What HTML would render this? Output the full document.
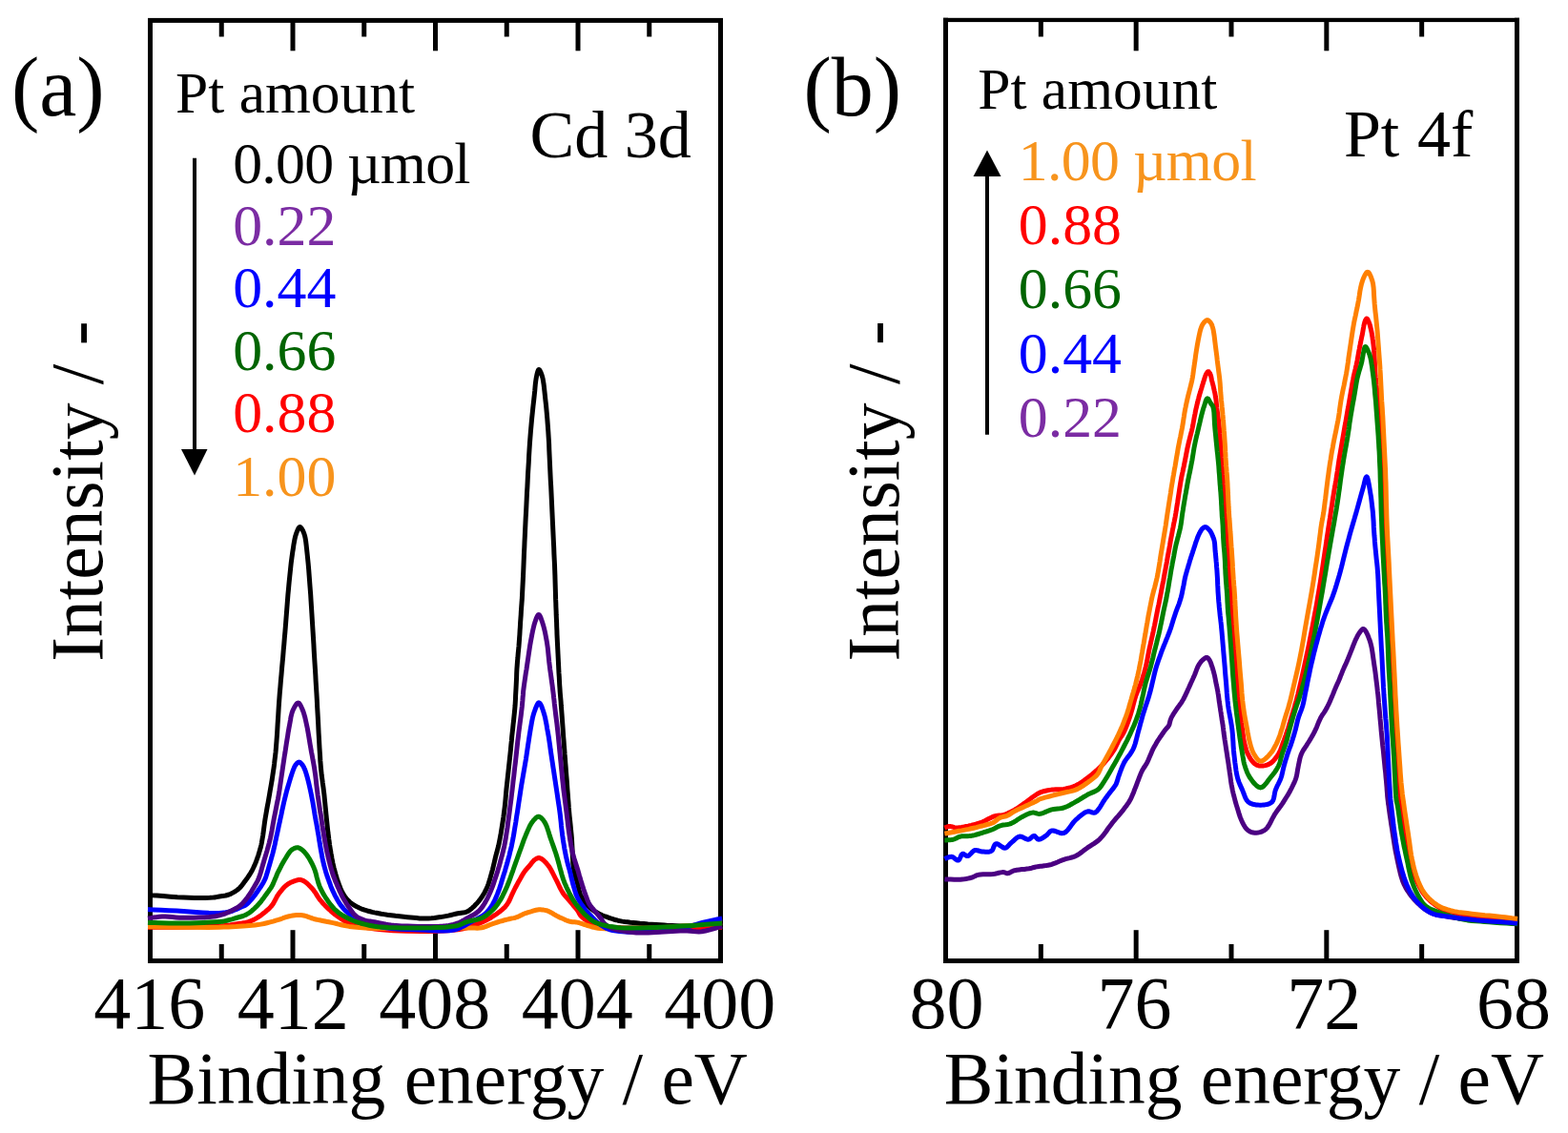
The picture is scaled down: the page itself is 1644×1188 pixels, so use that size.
<!DOCTYPE html>
<html><head><meta charset="utf-8"><style>
html,body{margin:0;padding:0;background:#fff;}
svg{display:block;}
text{font-family:"Liberation Serif","Times New Roman",serif;}
</style></head><body>
<svg width="1644" height="1188" viewBox="0 0 1644 1188">
<rect width="1644" height="1188" fill="#fff"/>
<rect x="157.5" y="21.4" width="598.0" height="986.1" fill="none" stroke="#000" stroke-width="5" stroke-linejoin="miter"/>
<path d="M991.5,18.8 V1007.5 M1590.5,18.8 V1010 M989,1007.5 H1593" fill="none" stroke="#000" stroke-width="5"/>
<rect x="989" y="18.8" width="604" height="4.3" fill="#000"/>
<line x1="307.0" y1="21" x2="307.0" y2="53.3" stroke="#000" stroke-width="5"/>
<line x1="307.0" y1="1008" x2="307.0" y2="975.2" stroke="#000" stroke-width="5"/>
<line x1="456.5" y1="21" x2="456.5" y2="53.3" stroke="#000" stroke-width="5"/>
<line x1="456.5" y1="1008" x2="456.5" y2="975.2" stroke="#000" stroke-width="5"/>
<line x1="606.0" y1="21" x2="606.0" y2="53.3" stroke="#000" stroke-width="5"/>
<line x1="606.0" y1="1008" x2="606.0" y2="975.2" stroke="#000" stroke-width="5"/>
<line x1="232.25" y1="21" x2="232.25" y2="38.5" stroke="#000" stroke-width="5"/>
<line x1="232.25" y1="1008" x2="232.25" y2="990" stroke="#000" stroke-width="5"/>
<line x1="381.75" y1="21" x2="381.75" y2="38.5" stroke="#000" stroke-width="5"/>
<line x1="381.75" y1="1008" x2="381.75" y2="990" stroke="#000" stroke-width="5"/>
<line x1="531.25" y1="21" x2="531.25" y2="38.5" stroke="#000" stroke-width="5"/>
<line x1="531.25" y1="1008" x2="531.25" y2="990" stroke="#000" stroke-width="5"/>
<line x1="680.75" y1="21" x2="680.75" y2="38.5" stroke="#000" stroke-width="5"/>
<line x1="680.75" y1="1008" x2="680.75" y2="990" stroke="#000" stroke-width="5"/>
<line x1="1191.1666666666667" y1="21" x2="1191.1666666666667" y2="53.3" stroke="#000" stroke-width="5"/>
<line x1="1191.1666666666667" y1="1008" x2="1191.1666666666667" y2="975.2" stroke="#000" stroke-width="5"/>
<line x1="1390.8333333333333" y1="21" x2="1390.8333333333333" y2="53.3" stroke="#000" stroke-width="5"/>
<line x1="1390.8333333333333" y1="1008" x2="1390.8333333333333" y2="975.2" stroke="#000" stroke-width="5"/>
<line x1="1091.3333333333333" y1="21" x2="1091.3333333333333" y2="38.5" stroke="#000" stroke-width="5"/>
<line x1="1091.3333333333333" y1="1008" x2="1091.3333333333333" y2="990" stroke="#000" stroke-width="5"/>
<line x1="1291.0" y1="21" x2="1291.0" y2="38.5" stroke="#000" stroke-width="5"/>
<line x1="1291.0" y1="1008" x2="1291.0" y2="990" stroke="#000" stroke-width="5"/>
<line x1="1490.6666666666667" y1="21" x2="1490.6666666666667" y2="38.5" stroke="#000" stroke-width="5"/>
<line x1="1490.6666666666667" y1="1008" x2="1490.6666666666667" y2="990" stroke="#000" stroke-width="5"/>
<path d="M158.0,938.5 L159.8,938.7 L164.4,939.1 L171.0,939.6 L178.5,940.2 L186.0,940.8 L192.4,941.1 L198.0,941.3 L203.8,941.4 L209.6,941.5 L215.0,941.4 L219.8,941.3 L223.6,941.1 L224.9,941.0 L226.0,940.8 L227.0,940.6 L227.9,940.4 L228.9,940.2 L230.0,940.0 L231.6,939.7 L233.2,939.5 L234.9,939.3 L236.7,939.0 L238.4,938.5 L240.1,938.0 L241.9,937.3 L243.6,936.4 L245.4,935.4 L247.1,934.3 L248.7,933.2 L250.2,932.0 L251.5,930.8 L252.7,929.5 L253.7,928.2 L254.8,926.8 L255.8,925.3 L256.9,923.9 L258.1,922.3 L259.3,920.7 L260.4,919.0 L261.6,917.3 L262.7,915.5 L263.7,913.8 L264.6,912.1 L265.4,910.5 L266.2,908.8 L267.0,907.1 L267.7,905.4 L268.4,903.7 L269.0,902.0 L269.6,900.4 L270.2,898.7 L270.8,897.0 L271.3,895.3 L271.8,893.6 L272.3,892.0 L272.7,890.4 L273.2,888.9 L273.6,887.2 L274.0,885.5 L274.4,883.5 L275.0,879.9 L275.7,875.8 L276.3,871.3 L276.9,866.7 L277.5,862.1 L278.2,857.7 L278.9,853.6 L279.6,849.5 L280.3,845.5 L281.1,841.4 L281.8,837.4 L282.5,833.3 L283.2,829.2 L283.9,825.1 L284.6,821.1 L285.3,817.0 L285.9,812.9 L286.5,808.8 L287.1,804.8 L287.6,801.0 L288.0,797.2 L288.5,793.2 L289.0,789.0 L289.4,784.4 L290.0,776.9 L290.6,768.6 L291.1,759.7 L291.7,750.6 L292.2,741.8 L292.8,733.5 L293.3,726.7 L293.9,720.2 L294.4,713.8 L295.0,707.5 L295.5,701.2 L296.1,694.8 L296.7,688.4 L297.2,681.9 L297.8,675.5 L298.3,669.0 L298.9,662.6 L299.4,656.1 L299.9,649.6 L300.4,643.2 L300.9,636.7 L301.4,630.3 L301.9,623.8 L302.5,617.4 L303.1,610.8 L303.8,604.0 L304.5,597.2 L305.2,590.6 L306.0,584.4 L306.8,578.7 L307.4,575.0 L307.9,571.4 L308.5,568.0 L309.1,564.8 L309.8,561.9 L310.6,559.4 L311.2,557.9 L311.8,556.3 L312.5,554.9 L313.1,553.7 L313.8,552.9 L314.5,552.6 L315.2,552.9 L316.0,553.7 L316.7,554.9 L317.5,556.3 L318.2,557.9 L318.8,559.4 L319.6,561.9 L320.2,564.8 L320.7,568.0 L321.1,571.4 L321.5,575.0 L321.9,578.7 L322.5,584.4 L323.1,590.6 L323.7,597.2 L324.2,604.0 L324.7,610.8 L325.2,617.4 L325.7,623.8 L326.1,630.3 L326.5,636.7 L326.9,643.2 L327.3,649.6 L327.7,656.1 L328.1,662.5 L328.5,669.0 L328.9,675.4 L329.2,681.9 L329.6,688.3 L330.0,694.8 L330.4,701.2 L330.8,707.5 L331.1,713.8 L331.5,720.2 L331.9,726.7 L332.3,733.5 L332.7,741.8 L333.2,750.6 L333.7,759.7 L334.1,768.5 L334.6,776.9 L335.0,784.4 L335.3,789.0 L335.6,793.2 L335.8,797.2 L336.1,801.0 L336.4,804.8 L336.8,808.8 L337.2,812.9 L337.8,817.0 L338.3,821.1 L338.9,825.1 L339.4,829.2 L339.9,833.3 L340.3,837.4 L340.7,841.5 L341.1,845.6 L341.5,849.6 L341.9,853.7 L342.3,857.7 L342.7,861.5 L343.1,865.4 L343.5,869.2 L343.9,872.9 L344.4,876.5 L344.8,880.0 L345.2,882.7 L345.5,885.3 L345.9,887.8 L346.3,890.3 L346.7,892.7 L347.1,895.2 L347.6,897.7 L348.0,900.2 L348.5,902.8 L349.0,905.3 L349.6,907.8 L350.2,910.3 L350.9,912.9 L351.5,915.5 L352.3,918.0 L353.0,920.6 L353.9,923.1 L354.7,925.5 L355.5,927.6 L356.3,929.8 L357.1,931.8 L358.0,933.9 L359.0,935.8 L360.0,937.6 L361.0,939.2 L362.0,940.6 L363.1,942.1 L364.3,943.4 L365.5,944.7 L366.8,945.9 L368.3,947.1 L369.8,948.2 L371.5,949.3 L373.2,950.2 L374.9,951.1 L376.7,952.0 L378.5,952.8 L380.3,953.5 L382.2,954.1 L384.1,954.7 L386.0,955.3 L388.0,955.8 L390.2,956.4 L392.5,956.9 L394.8,957.3 L397.2,957.7 L399.7,958.2 L402.3,958.6 L406.1,959.2 L410.2,959.7 L414.6,960.3 L419.0,960.8 L423.3,961.3 L427.3,961.7 L430.6,962.0 L433.7,962.3 L436.8,962.6 L439.9,962.9 L442.9,963.0 L446.0,963.0 L449.1,962.9 L452.3,962.7 L455.5,962.4 L458.6,962.0 L461.7,961.6 L464.7,961.1 L467.4,960.6 L470.0,960.1 L472.7,959.5 L475.2,958.9 L477.7,958.3 L480.0,957.8 L481.8,957.5 L483.6,957.2 L485.3,957.0 L486.9,956.8 L488.5,956.4 L490.0,955.8 L491.4,955.0 L492.7,954.1 L494.0,953.1 L495.2,952.0 L496.4,950.9 L497.6,949.7 L498.9,948.3 L500.3,946.9 L501.6,945.4 L502.8,943.9 L504.0,942.2 L505.2,940.6 L506.3,938.8 L507.4,937.0 L508.4,935.2 L509.4,933.2 L510.3,931.2 L511.2,929.2 L512.1,926.8 L512.9,924.4 L513.7,921.8 L514.4,919.2 L515.1,916.7 L515.8,914.1 L516.5,911.6 L517.1,909.0 L517.7,906.5 L518.3,904.0 L518.9,901.4 L519.5,898.9 L520.1,896.4 L520.8,894.1 L521.4,891.7 L522.0,889.3 L522.7,886.7 L523.3,883.8 L524.2,879.1 L525.2,873.7 L526.1,868.1 L527.0,862.3 L527.9,856.6 L528.6,851.1 L529.2,846.3 L529.7,841.7 L530.1,837.1 L530.5,832.5 L530.9,827.9 L531.4,823.3 L531.9,818.7 L532.4,814.1 L532.9,809.5 L533.4,804.8 L533.9,800.2 L534.4,795.6 L534.9,791.0 L535.4,786.3 L535.8,781.6 L536.3,777.0 L536.7,772.3 L537.2,767.8 L537.7,763.5 L538.1,759.3 L538.6,755.1 L539.0,751.0 L539.4,746.9 L539.8,742.9 L540.1,739.3 L540.3,735.9 L540.5,732.5 L540.6,729.1 L540.8,725.6 L541.0,722.1 L541.2,718.1 L541.4,714.1 L541.6,710.0 L541.7,705.9 L541.9,701.8 L542.2,697.7 L542.5,693.6 L542.9,689.6 L543.2,685.5 L543.6,681.4 L544.0,677.4 L544.3,673.3 L544.6,669.2 L544.9,665.1 L545.1,661.1 L545.4,657.0 L545.6,652.9 L545.9,648.8 L546.2,644.7 L546.4,640.7 L546.7,636.6 L547.0,632.5 L547.3,628.5 L547.5,624.4 L547.7,620.4 L547.9,616.4 L548.1,612.4 L548.3,608.4 L548.5,604.2 L548.7,600.0 L548.9,595.0 L549.1,589.9 L549.3,584.7 L549.5,579.4 L549.8,574.0 L550.0,568.5 L550.3,562.3 L550.6,555.9 L550.9,549.4 L551.2,542.8 L551.6,536.3 L551.9,529.8 L552.2,523.3 L552.5,516.9 L552.9,510.4 L553.2,504.0 L553.5,497.5 L553.9,491.1 L554.3,484.6 L554.6,478.2 L555.0,471.7 L555.4,465.3 L555.9,458.8 L556.4,452.4 L557.0,445.8 L557.6,439.0 L558.3,432.2 L559.0,425.6 L559.7,419.4 L560.3,413.7 L560.7,410.0 L561.0,406.4 L561.3,403.0 L561.7,399.8 L562.1,397.0 L562.6,394.4 L562.9,392.9 L563.3,391.3 L563.7,389.9 L564.1,388.7 L564.5,387.8 L565.0,387.5 L565.5,387.8 L566.1,388.6 L566.7,389.8 L567.3,391.3 L567.9,392.9 L568.4,394.4 L569.1,396.9 L569.6,399.8 L570.1,403.0 L570.5,406.4 L570.9,410.0 L571.3,413.7 L571.9,419.4 L572.6,425.6 L573.2,432.2 L573.8,439.0 L574.3,445.8 L574.8,452.4 L575.2,458.8 L575.6,465.3 L575.8,471.7 L576.1,478.2 L576.4,484.6 L576.7,491.1 L577.0,497.5 L577.3,504.0 L577.7,510.4 L578.0,516.9 L578.3,523.3 L578.6,529.8 L578.9,536.3 L579.2,542.8 L579.5,549.3 L579.8,555.7 L580.1,562.2 L580.4,568.5 L580.7,574.5 L580.9,580.6 L581.2,586.6 L581.5,592.5 L581.7,598.1 L581.9,603.4 L582.0,607.2 L582.1,610.7 L582.2,614.1 L582.3,617.5 L582.4,620.9 L582.5,624.4 L582.6,628.4 L582.8,632.4 L582.9,636.5 L583.1,640.6 L583.2,644.7 L583.4,648.8 L583.6,652.9 L583.7,657.0 L583.9,661.1 L584.0,665.1 L584.2,669.2 L584.4,673.3 L584.6,677.4 L584.8,681.4 L585.0,685.5 L585.2,689.6 L585.4,693.6 L585.6,697.7 L585.8,701.8 L586.0,705.9 L586.3,710.0 L586.5,714.1 L586.7,718.1 L587.0,722.1 L587.2,725.6 L587.5,729.1 L587.8,732.5 L588.1,735.9 L588.3,739.3 L588.6,742.9 L588.9,746.9 L589.2,751.0 L589.5,755.1 L589.8,759.3 L590.1,763.5 L590.4,767.8 L590.7,772.3 L591.1,777.0 L591.4,781.6 L591.8,786.3 L592.1,791.0 L592.5,795.6 L592.8,800.2 L593.2,804.8 L593.5,809.4 L593.9,814.1 L594.3,818.7 L594.6,823.3 L594.9,827.9 L595.3,832.6 L595.6,837.2 L596.0,841.8 L596.3,846.5 L596.7,851.1 L597.1,855.7 L597.6,860.3 L598.1,864.9 L598.5,869.5 L599.0,874.2 L599.4,878.9 L599.7,884.2 L600.0,889.7 L600.2,895.2 L600.5,900.6 L600.8,905.7 L601.4,910.3 L601.9,913.2 L602.5,915.8 L603.1,918.3 L603.8,920.7 L604.5,923.0 L605.2,925.5 L605.9,928.1 L606.5,930.7 L607.1,933.3 L607.8,935.8 L608.6,938.3 L609.7,940.6 L610.9,942.7 L612.3,944.8 L613.9,946.8 L615.5,948.7 L617.1,950.4 L618.8,952.0 L620.2,953.2 L621.7,954.3 L623.2,955.3 L624.7,956.3 L626.3,957.1 L627.9,958.0 L629.7,958.9 L631.5,959.7 L633.5,960.5 L635.4,961.2 L637.3,961.9 L639.2,962.6 L640.9,963.2 L642.6,963.7 L644.3,964.3 L646.1,964.7 L647.9,965.2 L649.8,965.6 L652.4,966.1 L655.1,966.5 L657.9,966.8 L660.9,967.2 L663.9,967.5 L667.0,967.8 L670.9,968.2 L675.0,968.5 L679.3,968.9 L683.6,969.2 L688.0,969.5 L692.2,969.8 L696.4,970.1 L700.5,970.4 L704.7,970.6 L708.9,970.8 L713.0,971.0 L717.1,971.1 L721.0,971.1 L725.0,971.1 L728.9,971.1 L732.8,971.0 L736.5,970.8 L740.0,970.5 L743.0,970.1 L746.4,969.6 L749.6,969.1 L752.3,968.5 L754.3,968.1 L755.0,968.0" fill="none" stroke="#000000" stroke-width="5" stroke-linejoin="round" stroke-linecap="butt"/>
<path d="M155.0,972.3 L159.4,972.3 L170.6,972.3 L186.0,972.2 L202.8,972.0 L218.3,971.6 L229.8,971.1 L234.0,970.7 L237.7,970.3 L241.1,969.9 L244.2,969.4 L247.2,968.9 L250.0,968.5 L251.9,968.2 L253.7,968.0 L255.5,967.7 L257.1,967.5 L258.7,967.1 L260.3,966.7 L261.8,966.2 L263.2,965.6 L264.6,965.0 L266.0,964.4 L267.3,963.7 L268.7,962.9 L270.1,962.0 L271.6,961.1 L273.0,960.2 L274.4,959.1 L275.7,958.1 L277.1,957.0 L278.5,955.9 L279.8,954.7 L281.2,953.5 L282.5,952.3 L283.8,950.9 L285.0,949.5 L286.3,947.7 L287.4,945.7 L288.5,943.7 L289.6,941.6 L290.7,939.5 L292.0,937.6 L293.4,935.7 L294.9,933.9 L296.4,932.0 L298.0,930.3 L299.6,928.7 L301.3,927.4 L302.8,926.4 L304.4,925.6 L306.1,924.8 L307.7,924.2 L309.2,923.6 L310.6,923.2 L311.3,923.0 L312.0,922.7 L312.7,922.6 L313.3,922.4 L313.9,922.4 L314.6,922.4 L315.4,922.5 L316.3,922.8 L317.1,923.1 L318.0,923.5 L318.9,924.0 L319.8,924.6 L321.3,925.7 L322.9,927.1 L324.5,928.8 L326.2,930.5 L327.7,932.2 L329.1,933.9 L330.2,935.4 L331.2,936.9 L332.1,938.4 L333.0,939.9 L334.0,941.4 L335.0,942.9 L336.2,944.3 L337.4,945.8 L338.7,947.2 L340.0,948.6 L341.3,949.9 L342.6,951.2 L343.8,952.4 L345.1,953.6 L346.4,954.7 L347.6,955.9 L348.9,957.0 L350.2,958.0 L351.4,959.0 L352.7,959.9 L353.9,960.8 L355.2,961.6 L356.4,962.5 L357.7,963.3 L358.9,964.1 L360.0,964.9 L361.1,965.7 L362.3,966.4 L363.7,967.2 L365.3,967.9 L369.4,969.3 L374.4,970.6 L380.1,971.9 L386.4,973.0 L393.1,974.0 L400.0,974.8 L412.0,975.7 L426.1,976.3 L441.1,976.5 L455.9,976.4 L469.3,975.8 L480.0,974.8 L484.5,974.0 L488.5,973.1 L492.0,972.0 L495.3,970.9 L498.4,969.7 L501.4,968.6 L503.5,967.8 L505.5,966.9 L507.3,966.1 L509.1,965.2 L510.9,964.3 L512.7,963.3 L514.7,962.2 L516.6,961.0 L518.6,959.7 L520.5,958.5 L522.4,957.1 L524.1,955.8 L525.5,954.6 L526.9,953.5 L528.1,952.3 L529.4,951.1 L530.5,949.7 L531.7,948.2 L533.1,946.0 L534.4,943.5 L535.6,940.8 L536.8,938.1 L538.0,935.5 L539.2,933.0 L540.2,931.0 L541.3,929.0 L542.3,927.1 L543.3,925.2 L544.3,923.4 L545.3,921.7 L546.1,920.3 L546.8,919.0 L547.5,917.7 L548.2,916.5 L549.0,915.3 L549.8,914.1 L550.6,913.0 L551.5,912.0 L552.3,911.0 L553.2,910.0 L554.1,909.0 L555.0,908.0 L555.9,906.9 L556.8,905.7 L557.7,904.5 L558.7,903.3 L559.6,902.3 L560.6,901.5 L561.4,901.0 L562.2,900.4 L563.0,900.0 L563.9,899.7 L564.7,899.6 L565.6,899.6 L567.0,900.1 L568.5,901.0 L570.0,902.2 L571.5,903.7 L573.0,905.3 L574.4,907.0 L576.1,909.3 L577.7,912.1 L579.3,915.0 L580.8,918.0 L582.3,921.0 L583.7,923.7 L584.8,925.9 L585.8,928.0 L586.8,930.1 L587.8,932.1 L588.9,934.1 L590.0,936.0 L591.2,937.7 L592.4,939.2 L593.7,940.7 L595.0,942.2 L596.3,943.7 L597.6,945.2 L598.9,946.7 L600.2,948.2 L601.5,949.8 L602.8,951.3 L604.1,952.7 L605.2,954.2 L606.0,955.4 L606.7,956.6 L607.3,957.7 L607.9,958.9 L608.7,960.0 L609.7,961.1 L611.5,962.7 L613.6,964.3 L615.9,965.9 L618.5,967.4 L621.0,968.7 L623.6,969.8 L626.0,970.6 L628.3,971.1 L630.7,971.5 L633.3,971.8 L636.4,972.0 L640.0,972.3 L656.0,972.9 L679.8,973.0 L706.5,972.9 L731.4,972.7 L749.8,972.4 L757.0,972.3" fill="none" stroke="#FF0000" stroke-width="5" stroke-linejoin="round" stroke-linecap="butt"/>
<path d="M155.0,971.7 L159.3,971.8 L170.3,972.0 L185.5,972.2 L202.3,972.3 L217.9,972.4 L229.8,972.3 L234.8,972.1 L239.3,972.0 L243.5,971.7 L247.4,971.5 L251.2,971.2 L255.0,970.9 L258.3,970.7 L261.4,970.4 L264.4,970.2 L267.5,969.9 L270.5,969.6 L273.5,969.1 L276.7,968.5 L279.9,967.7 L283.2,966.9 L286.3,966.1 L289.3,965.2 L292.0,964.4 L293.7,963.8 L295.3,963.3 L296.8,962.7 L298.2,962.2 L299.7,961.6 L301.3,961.2 L303.1,960.8 L305.0,960.4 L306.9,960.0 L308.8,959.7 L310.7,959.5 L312.4,959.4 L313.7,959.4 L315.0,959.5 L316.2,959.6 L317.3,959.8 L318.5,960.0 L319.8,960.3 L321.3,960.7 L322.9,961.3 L324.5,961.9 L326.1,962.5 L327.7,963.0 L329.1,963.5 L330.1,963.8 L331.1,964.0 L332.0,964.2 L332.9,964.4 L333.9,964.6 L335.0,964.8 L337.1,965.2 L339.5,965.7 L342.1,966.3 L344.8,966.8 L347.6,967.4 L350.2,967.9 L352.8,968.5 L355.2,969.1 L357.7,969.7 L360.3,970.3 L363.1,970.9 L366.1,971.4 L371.2,972.0 L376.8,972.5 L382.9,972.9 L389.2,973.2 L395.8,973.4 L402.3,973.6 L410.2,973.8 L418.6,973.8 L427.2,973.8 L435.8,973.8 L444.2,973.7 L452.2,973.6 L458.9,973.5 L465.7,973.4 L472.3,973.2 L478.5,973.1 L484.4,973.0 L489.6,972.9 L492.6,972.9 L495.3,973.0 L497.9,973.1 L500.3,973.2 L502.7,973.1 L505.0,972.8 L507.0,972.3 L508.9,971.7 L510.8,970.9 L512.6,970.1 L514.5,969.3 L516.5,968.6 L518.9,967.8 L521.5,967.0 L524.1,966.2 L526.8,965.5 L529.3,964.7 L531.7,964.1 L533.5,963.7 L535.3,963.3 L537.1,962.9 L538.8,962.6 L540.4,962.2 L542.0,961.7 L543.4,961.1 L544.7,960.5 L546.0,959.8 L547.3,959.2 L548.6,958.5 L549.8,958.0 L550.8,957.6 L551.8,957.3 L552.8,957.0 L553.8,956.7 L554.8,956.4 L555.9,956.1 L557.3,955.7 L558.8,955.2 L560.4,954.7 L562.0,954.3 L563.6,954.0 L565.2,953.8 L566.7,953.8 L568.3,953.9 L569.8,954.1 L571.4,954.4 L572.9,954.7 L574.4,955.2 L576.0,955.9 L577.6,956.7 L579.2,957.6 L580.7,958.6 L582.3,959.5 L583.7,960.3 L584.8,960.9 L585.9,961.4 L586.9,961.9 L587.9,962.4 L588.9,962.8 L590.0,963.3 L591.2,963.8 L592.5,964.4 L593.7,965.0 L595.0,965.5 L596.3,965.9 L597.6,966.3 L598.8,966.5 L600.1,966.7 L601.3,966.7 L602.6,966.8 L603.9,966.9 L605.2,967.1 L606.9,967.5 L608.7,968.1 L610.5,968.7 L612.3,969.3 L614.2,969.9 L616.1,970.5 L618.2,971.1 L620.1,971.7 L622.2,972.2 L624.4,972.8 L626.9,973.2 L629.8,973.6 L638.4,974.1 L649.4,974.2 L661.9,973.9 L675.1,973.5 L688.1,972.9 L700.0,972.3 L711.2,971.6 L723.7,970.5 L736.0,969.4 L746.7,968.4 L754.2,967.6 L757.0,967.3" fill="none" stroke="#FF8000" stroke-width="5" stroke-linejoin="round" stroke-linecap="butt"/>
<path d="M155.0,953.6 L156.9,953.7 L161.9,954.0 L169.0,954.3 L177.2,954.7 L185.3,955.1 L192.4,955.5 L198.9,955.9 L205.6,956.4 L212.4,956.9 L218.8,957.3 L224.7,957.5 L229.8,957.4 L232.3,957.2 L234.5,957.0 L236.6,956.8 L238.5,956.4 L240.4,956.0 L242.3,955.5 L244.0,955.0 L245.7,954.3 L247.4,953.6 L249.0,952.9 L250.5,952.2 L252.0,951.5 L253.1,951.0 L254.2,950.6 L255.2,950.1 L256.2,949.7 L257.2,949.2 L258.1,948.6 L258.9,948.0 L259.6,947.3 L260.4,946.6 L261.0,945.9 L261.7,945.2 L262.4,944.4 L263.1,943.6 L263.8,942.8 L264.5,942.0 L265.2,941.1 L265.9,940.3 L266.6,939.4 L267.3,938.5 L268.0,937.5 L268.7,936.5 L269.4,935.5 L270.1,934.5 L270.8,933.5 L271.5,932.5 L272.2,931.4 L273.0,930.4 L273.7,929.3 L274.3,928.3 L275.0,927.2 L275.6,926.2 L276.2,925.2 L276.7,924.2 L277.2,923.1 L277.8,922.0 L278.3,920.8 L279.0,918.8 L279.7,916.6 L280.4,914.3 L281.1,911.8 L281.8,909.4 L282.5,907.0 L283.2,904.6 L283.9,902.1 L284.6,899.5 L285.3,897.1 L286.0,894.6 L286.6,892.2 L287.1,890.2 L287.5,888.2 L288.0,886.3 L288.4,884.4 L288.8,882.3 L289.3,880.1 L290.0,876.8 L290.8,873.2 L291.6,869.4 L292.4,865.5 L293.3,861.6 L294.1,857.7 L295.0,853.7 L295.8,849.6 L296.7,845.6 L297.6,841.5 L298.6,837.4 L299.6,833.3 L300.7,829.0 L302.0,824.5 L303.3,820.1 L304.6,815.8 L305.8,812.0 L306.9,808.8 L307.4,807.4 L307.9,806.1 L308.4,804.9 L308.9,803.8 L309.4,802.9 L310.0,802.0 L310.5,801.3 L311.1,800.7 L311.7,800.0 L312.4,799.5 L313.0,799.2 L313.6,799.1 L314.2,799.2 L314.8,799.6 L315.4,800.1 L315.9,800.7 L316.5,801.3 L317.0,802.0 L317.6,802.9 L318.2,803.8 L318.7,804.9 L319.2,806.1 L319.8,807.4 L320.3,808.8 L321.3,812.0 L322.4,815.8 L323.5,820.1 L324.5,824.5 L325.5,829.0 L326.4,833.3 L327.2,837.4 L328.0,841.6 L328.7,845.8 L329.4,849.9 L330.0,853.9 L330.7,857.7 L331.2,860.7 L331.8,863.6 L332.3,866.5 L332.8,869.2 L333.2,871.9 L333.7,874.6 L334.1,876.8 L334.4,879.0 L334.7,881.1 L335.1,883.2 L335.4,885.3 L335.8,887.6 L336.3,890.6 L336.9,893.7 L337.5,897.0 L338.1,900.2 L338.8,903.4 L339.5,906.5 L340.2,909.1 L340.9,911.7 L341.6,914.2 L342.4,916.7 L343.2,919.2 L344.1,921.7 L345.0,924.3 L346.0,926.8 L346.9,929.4 L348.0,931.9 L349.1,934.4 L350.2,936.8 L351.3,939.1 L352.5,941.3 L353.7,943.5 L355.0,945.7 L356.3,947.8 L357.7,949.7 L359.1,951.4 L360.5,953.1 L362.0,954.7 L363.6,956.2 L365.2,957.6 L366.8,958.8 L368.3,959.8 L369.8,960.5 L371.4,961.2 L373.0,961.9 L374.8,962.5 L376.7,963.3 L379.9,964.7 L383.5,966.2 L387.3,967.9 L391.3,969.4 L395.6,970.8 L400.0,972.0 L406.0,973.1 L412.5,973.8 L419.4,974.3 L426.4,974.6 L433.3,974.8 L440.0,975.0 L446.3,975.3 L452.6,975.7 L458.9,976.0 L465.0,976.1 L470.8,975.8 L476.0,975.0 L479.6,974.0 L483.0,972.6 L486.2,971.0 L489.2,969.3 L492.1,967.6 L495.0,966.0 L497.5,964.7 L500.0,963.5 L502.5,962.2 L504.8,960.9 L506.9,959.5 L508.9,958.0 L510.4,956.5 L511.8,955.0 L513.1,953.4 L514.3,951.8 L515.4,950.0 L516.5,948.2 L517.7,946.1 L518.8,943.9 L519.8,941.6 L520.7,939.3 L521.7,936.9 L522.6,934.5 L523.6,931.8 L524.5,929.1 L525.4,926.3 L526.2,923.5 L527.1,920.6 L527.9,917.9 L528.7,915.4 L529.5,912.9 L530.2,910.4 L530.9,907.9 L531.7,905.3 L532.4,902.7 L533.2,899.7 L534.0,896.8 L534.7,893.7 L535.5,890.6 L536.3,887.3 L537.0,883.8 L538.0,878.8 L538.9,873.5 L539.8,867.9 L540.8,862.1 L541.6,856.5 L542.5,851.1 L543.2,846.3 L543.9,841.7 L544.6,837.1 L545.3,832.5 L546.0,827.9 L546.7,823.3 L547.5,818.7 L548.3,814.1 L549.1,809.5 L549.9,804.8 L550.7,800.2 L551.5,795.6 L552.2,790.9 L552.9,786.2 L553.6,781.4 L554.3,776.8 L555.0,772.2 L555.7,767.8 L556.3,764.1 L557.0,760.3 L557.6,756.7 L558.3,753.2 L559.1,750.0 L560.0,747.0 L560.8,744.8 L561.6,742.5 L562.5,740.4 L563.4,738.5 L564.2,737.3 L565.1,736.8 L565.9,737.3 L566.8,738.5 L567.7,740.4 L568.5,742.5 L569.3,744.8 L570.0,747.0 L570.9,750.0 L571.7,753.2 L572.4,756.7 L573.1,760.3 L573.7,764.1 L574.4,767.8 L575.2,772.2 L575.9,776.8 L576.6,781.4 L577.2,786.2 L577.9,790.9 L578.6,795.6 L579.3,800.2 L580.0,804.8 L580.7,809.4 L581.4,814.1 L582.1,818.7 L582.8,823.3 L583.5,828.0 L584.2,832.7 L584.9,837.4 L585.6,842.1 L586.3,846.7 L586.9,851.1 L587.4,854.9 L587.8,858.7 L588.2,862.4 L588.5,866.0 L588.9,869.5 L589.3,872.8 L589.6,875.4 L590.0,877.9 L590.3,880.4 L590.7,882.8 L591.1,885.2 L591.5,887.6 L591.9,890.1 L592.4,892.7 L592.9,895.3 L593.4,897.8 L594.0,900.3 L594.5,902.7 L595.0,904.7 L595.5,906.6 L596.0,908.4 L596.5,910.2 L597.1,912.1 L597.6,914.1 L598.2,916.5 L598.8,919.1 L599.4,921.7 L600.1,924.3 L600.7,926.8 L601.4,929.2 L602.0,931.2 L602.5,933.2 L603.1,935.1 L603.7,937.0 L604.4,938.8 L605.2,940.6 L606.1,942.3 L607.0,944.0 L608.0,945.7 L609.0,947.3 L610.1,948.9 L611.2,950.5 L612.4,952.1 L613.5,953.6 L614.8,955.1 L616.1,956.5 L617.4,958.0 L618.8,959.5 L620.5,961.3 L622.2,963.1 L624.0,964.9 L625.9,966.7 L627.8,968.3 L629.8,969.8 L631.7,971.0 L633.4,972.1 L635.3,973.1 L637.3,974.0 L639.6,974.8 L642.3,975.5 L649.5,976.6 L658.7,977.3 L669.1,977.5 L679.9,977.3 L690.5,976.8 L700.0,976.0 L707.7,974.8 L715.3,973.2 L722.8,971.3 L729.8,969.3 L736.3,967.5 L742.0,966.1 L745.3,965.4 L748.7,964.7 L751.8,964.0 L754.5,963.5 L756.3,963.1 L757.0,963.0" fill="none" stroke="#0000FF" stroke-width="5" stroke-linejoin="round" stroke-linecap="butt"/>
<path d="M155.0,963.0 L155.7,962.9 L157.7,962.6 L160.4,962.1 L163.7,961.7 L167.0,961.3 L170.0,961.1 L173.4,961.1 L177.0,961.3 L180.7,961.6 L184.5,961.9 L188.4,962.2 L192.4,962.3 L197.5,962.3 L203.0,962.3 L208.7,962.1 L214.2,961.9 L219.2,961.6 L223.6,961.1 L225.9,960.7 L227.9,960.3 L229.8,959.9 L231.6,959.4 L233.3,958.9 L235.0,958.3 L236.5,957.8 L237.9,957.2 L239.3,956.5 L240.7,955.9 L242.0,955.2 L243.4,954.5 L244.8,953.8 L246.3,953.0 L247.7,952.2 L249.2,951.4 L250.5,950.5 L251.8,949.5 L253.0,948.5 L254.1,947.4 L255.2,946.2 L256.2,945.0 L257.2,943.8 L258.1,942.7 L258.9,941.7 L259.6,940.8 L260.3,939.8 L261.0,938.8 L261.7,937.8 L262.4,936.8 L263.1,935.7 L263.8,934.5 L264.5,933.3 L265.2,932.1 L265.9,930.9 L266.6,929.7 L267.3,928.5 L268.0,927.3 L268.7,926.2 L269.4,924.9 L270.1,923.6 L270.8,922.1 L271.8,919.5 L272.8,916.5 L273.8,913.3 L274.7,909.9 L275.6,906.7 L276.5,903.7 L277.2,901.3 L277.9,899.1 L278.6,896.8 L279.2,894.6 L279.9,892.4 L280.5,890.2 L281.1,888.0 L281.7,885.8 L282.3,883.6 L282.8,881.4 L283.4,879.1 L283.9,876.7 L284.5,873.8 L285.1,870.7 L285.6,867.6 L286.2,864.3 L286.8,861.0 L287.4,857.7 L288.2,853.8 L289.0,849.8 L289.8,845.7 L290.6,841.6 L291.5,837.4 L292.2,833.3 L292.9,829.2 L293.5,825.1 L294.1,821.1 L294.7,817.0 L295.3,812.9 L295.9,808.8 L296.5,804.7 L297.1,800.7 L297.7,796.6 L298.3,792.5 L299.0,788.5 L299.6,784.4 L300.2,780.3 L300.9,776.0 L301.6,771.8 L302.2,767.7 L302.9,763.7 L303.6,760.0 L304.1,757.2 L304.6,754.5 L305.0,751.9 L305.6,749.5 L306.2,747.1 L307.0,745.0 L307.8,743.3 L308.7,741.5 L309.7,739.8 L310.7,738.3 L311.7,737.3 L312.6,737.0 L313.5,737.4 L314.3,738.4 L315.2,739.8 L316.0,741.5 L316.8,743.3 L317.5,745.0 L318.3,747.1 L319.0,749.5 L319.7,751.9 L320.3,754.5 L320.9,757.2 L321.5,760.0 L322.3,763.7 L323.0,767.7 L323.7,771.8 L324.4,776.0 L325.1,780.3 L325.8,784.4 L326.5,788.5 L327.3,792.5 L328.0,796.6 L328.8,800.7 L329.5,804.7 L330.1,808.8 L330.7,812.9 L331.2,817.0 L331.6,821.0 L332.1,825.1 L332.6,829.2 L333.1,833.3 L333.7,837.4 L334.3,841.5 L334.9,845.6 L335.5,849.7 L336.2,853.7 L336.8,857.7 L337.4,861.5 L337.9,865.3 L338.5,869.0 L339.1,872.7 L339.7,876.4 L340.3,880.0 L340.9,883.3 L341.5,886.5 L342.1,889.6 L342.7,892.8 L343.4,895.8 L344.1,898.9 L344.8,901.8 L345.5,904.6 L346.2,907.4 L347.0,910.2 L347.8,912.9 L348.6,915.6 L349.4,918.0 L350.3,920.3 L351.1,922.5 L352.0,924.8 L353.0,927.0 L353.9,929.2 L354.9,931.4 L355.8,933.6 L356.8,935.8 L357.8,937.9 L358.9,940.1 L360.0,942.1 L361.1,944.0 L362.2,945.8 L363.3,947.6 L364.5,949.4 L365.6,951.1 L366.8,952.7 L367.8,954.1 L368.7,955.5 L369.7,956.8 L370.7,958.1 L371.7,959.2 L372.9,960.3 L374.2,961.3 L375.6,962.1 L377.1,962.9 L378.7,963.6 L380.3,964.2 L382.0,964.8 L384.0,965.4 L386.0,965.8 L388.2,966.1 L390.4,966.4 L392.6,966.7 L394.8,967.1 L397.2,967.6 L399.7,968.1 L402.2,968.6 L404.8,969.2 L407.4,969.6 L410.0,970.0 L412.7,970.3 L415.4,970.5 L418.2,970.7 L421.0,970.9 L424.0,971.0 L427.3,971.1 L432.9,971.3 L439.3,971.5 L446.2,971.6 L452.9,971.6 L459.3,971.5 L464.7,971.1 L467.7,970.8 L470.5,970.4 L473.0,969.9 L475.4,969.4 L477.8,968.7 L480.0,968.0 L481.8,967.3 L483.5,966.4 L485.1,965.5 L486.7,964.6 L488.3,963.6 L490.0,962.6 L491.9,961.6 L493.9,960.5 L495.9,959.5 L497.9,958.4 L499.7,957.1 L501.4,955.8 L502.9,954.4 L504.2,952.8 L505.5,951.2 L506.7,949.5 L507.8,947.7 L508.9,945.9 L510.0,943.9 L511.1,941.8 L512.1,939.7 L513.1,937.5 L514.1,935.3 L515.0,933.0 L516.0,930.6 L516.9,928.1 L517.8,925.6 L518.6,923.0 L519.5,920.4 L520.3,917.9 L521.1,915.4 L521.9,912.9 L522.6,910.4 L523.4,907.9 L524.1,905.3 L524.8,902.7 L525.6,899.7 L526.4,896.8 L527.2,893.7 L527.9,890.6 L528.7,887.3 L529.4,883.8 L530.3,878.8 L531.1,873.5 L532.0,867.9 L532.7,862.1 L533.5,856.5 L534.2,851.1 L534.8,846.3 L535.4,841.7 L536.0,837.1 L536.5,832.5 L537.1,827.9 L537.6,823.3 L538.1,818.7 L538.7,814.1 L539.2,809.5 L539.7,804.8 L540.3,800.2 L540.8,795.6 L541.3,791.0 L541.8,786.3 L542.3,781.7 L542.8,777.0 L543.4,772.4 L543.9,767.8 L544.5,763.2 L545.1,758.7 L545.7,754.1 L546.3,749.6 L546.8,745.2 L547.3,741.0 L547.6,737.7 L547.9,734.5 L548.1,731.5 L548.4,728.5 L548.6,725.3 L549.0,722.1 L549.5,718.2 L550.1,714.2 L550.7,710.1 L551.3,705.9 L552.0,701.8 L552.6,697.7 L553.2,693.6 L553.8,689.5 L554.4,685.4 L555.0,681.3 L555.6,677.3 L556.3,673.3 L557.0,669.5 L557.7,665.7 L558.5,661.8 L559.3,658.2 L560.1,654.9 L561.0,652.0 L561.6,650.3 L562.2,648.6 L562.9,647.0 L563.5,645.7 L564.2,644.8 L564.8,644.5 L565.4,644.8 L566.1,645.7 L566.7,647.0 L567.3,648.6 L567.9,650.3 L568.5,652.0 L569.4,654.9 L570.3,658.2 L571.2,661.8 L572.0,665.7 L572.7,669.5 L573.4,673.3 L574.0,677.3 L574.5,681.3 L574.9,685.4 L575.3,689.5 L575.7,693.6 L576.2,697.7 L576.7,701.8 L577.3,705.9 L577.9,710.1 L578.4,714.2 L579.0,718.2 L579.5,722.1 L579.9,725.3 L580.3,728.5 L580.6,731.5 L581.0,734.5 L581.3,737.7 L581.7,741.0 L582.2,745.2 L582.7,749.6 L583.3,754.1 L583.9,758.7 L584.4,763.2 L584.9,767.8 L585.4,772.4 L585.8,777.0 L586.3,781.7 L586.7,786.3 L587.2,791.0 L587.6,795.6 L588.1,800.2 L588.5,804.8 L589.0,809.5 L589.4,814.1 L589.9,818.7 L590.4,823.3 L590.9,827.9 L591.5,832.5 L592.1,837.2 L592.7,841.8 L593.3,846.4 L593.9,851.1 L594.5,856.0 L595.1,861.0 L595.7,866.1 L596.3,871.0 L597.0,875.7 L597.6,880.0 L598.1,882.8 L598.5,885.4 L599.0,887.9 L599.5,890.3 L600.0,892.7 L600.6,895.2 L601.3,897.7 L602.0,900.2 L602.8,902.8 L603.6,905.3 L604.4,907.8 L605.2,910.3 L606.0,912.8 L606.7,915.4 L607.4,918.0 L608.2,920.5 L608.9,923.0 L609.7,925.5 L610.4,927.8 L611.2,930.2 L611.9,932.5 L612.7,934.8 L613.4,937.0 L614.2,939.1 L614.8,940.7 L615.4,942.3 L615.9,943.9 L616.6,945.3 L617.2,946.8 L618.0,948.2 L618.9,949.6 L619.9,950.8 L620.9,952.1 L622.0,953.3 L623.1,954.6 L624.1,955.8 L625.1,957.1 L626.2,958.3 L627.3,959.6 L628.3,960.9 L629.3,962.1 L630.2,963.3 L630.9,964.2 L631.4,965.2 L631.9,966.1 L632.5,966.9 L633.1,967.8 L633.9,968.6 L635.0,969.6 L636.2,970.5 L637.5,971.3 L638.9,972.1 L640.5,972.9 L642.3,973.6 L645.6,974.6 L649.6,975.6 L653.9,976.3 L658.4,977.0 L662.9,977.5 L667.2,977.9 L671.4,978.1 L675.5,978.1 L679.7,977.9 L683.9,977.7 L688.0,977.5 L692.2,977.3 L696.4,977.1 L700.6,976.8 L704.9,976.6 L709.1,976.3 L713.2,976.1 L717.1,976.0 L720.4,976.1 L723.5,976.3 L726.6,976.6 L729.6,976.8 L732.7,976.9 L735.8,976.7 L739.8,976.0 L744.4,974.9 L749.0,973.6 L753.0,972.4 L755.9,971.5 L757.0,971.1" fill="none" stroke="#4B0082" stroke-width="5" stroke-linejoin="round" stroke-linecap="butt"/>
<path d="M155.0,967.3 L156.9,967.4 L161.9,967.5 L169.0,967.7 L177.2,967.9 L185.3,968.0 L192.4,968.0 L199.0,967.9 L206.1,967.7 L213.2,967.4 L219.9,967.1 L225.5,966.8 L229.8,966.5 L230.9,966.4 L231.8,966.3 L232.6,966.3 L233.3,966.2 L234.1,966.1 L235.0,965.9 L236.8,965.5 L238.8,965.0 L241.0,964.4 L243.3,963.8 L245.5,963.1 L247.6,962.5 L249.4,962.0 L251.2,961.5 L253.0,961.0 L254.8,960.5 L256.5,959.8 L258.1,959.1 L259.6,958.2 L261.1,957.3 L262.6,956.2 L264.0,955.1 L265.3,953.9 L266.6,952.8 L267.7,951.7 L268.8,950.7 L269.9,949.6 L270.9,948.4 L271.9,947.3 L272.9,946.1 L274.0,944.8 L275.0,943.4 L276.1,942.0 L277.1,940.6 L278.2,939.1 L279.2,937.7 L280.2,936.3 L281.2,935.0 L282.1,933.7 L283.1,932.3 L284.1,930.9 L285.0,929.3 L286.2,927.0 L287.3,924.4 L288.4,921.7 L289.6,919.0 L290.7,916.2 L292.0,913.5 L293.5,910.6 L295.0,907.6 L296.7,904.6 L298.3,901.8 L299.9,899.2 L301.3,896.9 L302.1,895.7 L302.9,894.5 L303.6,893.5 L304.3,892.6 L305.1,891.7 L306.0,891.0 L307.0,890.4 L308.0,889.8 L309.1,889.3 L310.2,888.9 L311.3,888.8 L312.4,888.8 L313.6,889.1 L314.9,889.8 L316.1,890.6 L317.4,891.7 L318.6,892.8 L319.8,894.1 L321.5,896.1 L323.1,898.5 L324.8,901.2 L326.3,904.0 L327.8,906.9 L329.1,909.8 L330.3,912.9 L331.3,916.2 L332.1,919.6 L333.0,922.9 L333.9,926.2 L335.0,929.2 L336.1,931.7 L337.3,934.1 L338.6,936.4 L339.9,938.7 L341.2,940.8 L342.6,942.9 L343.8,944.7 L345.0,946.4 L346.3,948.1 L347.6,949.7 L348.9,951.3 L350.2,952.7 L351.4,953.9 L352.6,954.9 L353.8,956.0 L355.0,956.9 L356.3,957.9 L357.7,958.8 L359.4,959.9 L361.3,961.0 L363.2,962.0 L365.2,963.0 L367.2,963.9 L369.1,964.8 L370.9,965.5 L372.6,966.2 L374.4,966.8 L376.2,967.4 L378.0,968.0 L380.0,968.5 L382.3,969.1 L384.6,969.7 L387.0,970.3 L389.7,970.8 L392.6,971.3 L396.1,971.7 L406.8,972.4 L421.1,972.9 L437.2,973.0 L453.1,972.8 L467.1,972.2 L477.2,971.1 L480.0,970.5 L482.3,969.7 L484.3,968.8 L486.1,968.0 L487.9,967.1 L490.0,966.4 L492.5,965.8 L495.1,965.2 L497.7,964.7 L500.3,964.2 L502.8,963.5 L505.2,962.6 L507.3,961.5 L509.3,960.2 L511.2,958.8 L513.1,957.3 L514.8,955.8 L516.5,954.2 L517.9,952.7 L519.3,951.2 L520.5,949.6 L521.8,948.0 L522.9,946.2 L524.1,944.4 L525.5,942.1 L526.8,939.7 L528.0,937.2 L529.3,934.6 L530.5,931.9 L531.7,929.2 L533.0,926.0 L534.3,922.7 L535.5,919.2 L536.7,915.8 L538.0,912.3 L539.2,908.8 L540.5,905.2 L541.8,901.5 L543.1,897.9 L544.4,894.2 L545.6,890.8 L546.8,887.6 L547.6,885.4 L548.3,883.4 L549.0,881.4 L549.7,879.5 L550.5,877.6 L551.3,875.6 L552.3,873.3 L553.3,870.9 L554.4,868.4 L555.5,866.0 L556.7,863.9 L558.0,862.0 L559.0,860.7 L560.1,859.4 L561.3,858.2 L562.4,857.2 L563.6,856.5 L564.7,856.3 L565.8,856.5 L566.9,857.2 L568.0,858.1 L569.0,859.3 L570.0,860.6 L571.0,862.0 L572.2,864.2 L573.3,866.8 L574.3,869.7 L575.3,872.8 L576.2,875.9 L577.2,878.9 L578.3,882.0 L579.4,885.1 L580.5,888.2 L581.6,891.3 L582.7,894.5 L583.7,897.8 L584.8,901.5 L585.9,905.5 L586.9,909.5 L588.0,913.3 L589.0,917.0 L590.0,920.2 L590.6,922.1 L591.2,923.7 L591.8,925.3 L592.4,926.8 L593.1,928.3 L593.8,930.0 L594.9,932.3 L596.1,934.7 L597.3,937.3 L598.7,939.8 L600.0,942.2 L601.4,944.4 L602.6,946.2 L603.8,947.9 L605.1,949.6 L606.3,951.2 L607.6,952.7 L608.9,954.2 L610.1,955.6 L611.4,956.9 L612.6,958.2 L613.9,959.5 L615.2,960.7 L616.5,961.8 L617.7,962.8 L618.9,963.8 L620.1,964.7 L621.4,965.6 L622.7,966.4 L624.1,967.1 L625.7,967.8 L627.4,968.5 L629.2,969.0 L631.0,969.6 L632.9,970.0 L635.0,970.5 L637.8,971.1 L640.8,971.6 L643.9,972.0 L647.3,972.4 L650.9,972.7 L654.8,972.9 L661.8,973.1 L669.7,973.0 L678.2,972.8 L687.1,972.5 L696.0,972.1 L704.6,971.7 L714.5,971.1 L725.9,970.4 L737.3,969.5 L747.2,968.8 L754.3,968.2 L757.0,968.0" fill="none" stroke="#008000" stroke-width="5" stroke-linejoin="round" stroke-linecap="butt"/>
<path d="M990.3,921.8 L991.2,921.9 L993.5,922.0 L996.7,922.1 L1000.4,922.3 L1003.9,922.3 L1006.9,922.2 L1009.0,922.0 L1011.0,921.8 L1012.9,921.5 L1014.8,921.1 L1016.6,920.7 L1018.3,920.3 L1019.6,919.9 L1020.9,919.3 L1022.0,918.8 L1023.2,918.2 L1024.5,917.7 L1025.9,917.3 L1028.1,917.0 L1030.6,916.8 L1033.2,916.8 L1035.9,916.7 L1038.5,916.7 L1041.0,916.5 L1043.1,916.2 L1045.2,915.8 L1047.2,915.3 L1049.1,914.9 L1050.9,914.6 L1052.4,914.6 L1053.1,914.7 L1053.8,915.0 L1054.4,915.3 L1054.9,915.5 L1055.5,915.7 L1056.2,915.8 L1057.3,915.6 L1058.4,915.1 L1059.7,914.5 L1061.0,913.8 L1062.3,913.2 L1063.8,912.7 L1066.1,912.2 L1068.6,911.9 L1071.3,911.6 L1074.1,911.4 L1076.6,911.1 L1078.9,910.8 L1080.3,910.5 L1081.6,910.2 L1082.8,909.8 L1084.0,909.5 L1085.2,909.2 L1086.5,908.9 L1087.9,908.7 L1089.3,908.5 L1090.7,908.3 L1092.2,908.2 L1093.6,908.0 L1095.0,907.8 L1096.3,907.6 L1097.5,907.4 L1098.7,907.3 L1100.0,907.0 L1101.2,906.8 L1102.6,906.4 L1104.5,905.7 L1106.6,904.9 L1108.8,904.0 L1110.9,903.0 L1113.1,902.1 L1115.3,901.3 L1117.4,900.6 L1119.5,900.1 L1121.6,899.6 L1123.8,899.0 L1125.9,898.4 L1127.9,897.5 L1130.1,896.3 L1132.2,894.9 L1134.3,893.4 L1136.3,891.8 L1138.4,890.2 L1140.5,888.7 L1142.6,887.3 L1144.8,885.9 L1146.9,884.6 L1149.0,883.1 L1151.1,881.6 L1153.1,879.8 L1155.3,877.4 L1157.5,874.8 L1159.6,872.0 L1161.6,869.0 L1163.7,866.2 L1165.8,863.4 L1167.9,860.8 L1170.1,858.2 L1172.4,855.6 L1174.5,853.1 L1176.6,850.7 L1178.4,848.3 L1179.7,846.6 L1180.9,845.0 L1182.0,843.4 L1183.1,841.8 L1184.2,840.1 L1185.2,838.3 L1186.4,835.9 L1187.5,833.3 L1188.6,830.7 L1189.6,827.9 L1190.7,825.2 L1191.7,822.6 L1192.6,820.2 L1193.5,817.8 L1194.4,815.4 L1195.3,813.1 L1196.2,810.8 L1197.2,808.7 L1198.1,807.0 L1199.0,805.5 L1200.0,804.0 L1200.9,802.6 L1201.9,801.1 L1202.8,799.4 L1203.8,797.3 L1204.8,794.9 L1205.8,792.6 L1206.8,790.2 L1207.8,787.8 L1208.8,785.6 L1209.8,783.7 L1210.8,781.9 L1211.8,780.2 L1212.8,778.4 L1213.9,776.7 L1215.0,775.0 L1216.1,773.3 L1217.4,771.5 L1218.6,769.7 L1219.8,768.0 L1220.9,766.4 L1222.0,765.0 L1222.7,764.2 L1223.3,763.5 L1223.9,762.8 L1224.5,762.2 L1225.0,761.5 L1225.5,760.7 L1226.0,759.6 L1226.3,758.4 L1226.6,757.2 L1226.9,755.9 L1227.3,754.6 L1227.8,753.3 L1228.5,751.8 L1229.4,750.3 L1230.3,748.7 L1231.3,747.2 L1232.3,745.6 L1233.3,744.1 L1234.4,742.5 L1235.5,741.0 L1236.6,739.5 L1237.7,737.9 L1238.8,736.4 L1239.8,734.8 L1240.7,733.3 L1241.5,731.8 L1242.2,730.2 L1243.0,728.7 L1243.7,727.1 L1244.4,725.6 L1245.1,724.1 L1245.8,722.5 L1246.5,721.0 L1247.2,719.4 L1247.9,717.9 L1248.6,716.3 L1249.3,714.8 L1250.0,713.2 L1250.7,711.7 L1251.4,710.1 L1252.1,708.6 L1252.8,707.0 L1253.4,705.4 L1254.0,703.8 L1254.6,702.2 L1255.2,700.7 L1255.8,699.2 L1256.5,697.8 L1257.2,696.7 L1257.9,695.6 L1258.6,694.6 L1259.4,693.6 L1260.2,692.8 L1261.0,692.0 L1261.7,691.4 L1262.4,690.8 L1263.2,690.2 L1263.9,689.7 L1264.7,689.5 L1265.3,689.4 L1265.8,689.6 L1266.3,689.9 L1266.8,690.3 L1267.2,690.8 L1267.6,691.4 L1268.0,692.0 L1268.5,692.8 L1268.9,693.7 L1269.3,694.6 L1269.7,695.7 L1270.0,696.7 L1270.4,697.8 L1270.9,699.2 L1271.4,700.7 L1271.8,702.3 L1272.3,703.8 L1272.7,705.4 L1273.1,707.0 L1273.5,708.5 L1273.8,710.1 L1274.1,711.6 L1274.4,713.2 L1274.7,714.7 L1275.0,716.3 L1275.3,717.9 L1275.7,719.4 L1276.0,721.0 L1276.3,722.5 L1276.6,724.1 L1276.9,725.6 L1277.1,727.1 L1277.4,728.7 L1277.6,730.2 L1277.8,731.7 L1278.0,733.3 L1278.2,734.8 L1278.4,736.3 L1278.7,737.9 L1278.9,739.5 L1279.1,741.0 L1279.4,742.6 L1279.6,744.1 L1279.8,745.6 L1280.1,747.2 L1280.3,748.7 L1280.5,750.2 L1280.8,751.8 L1281.0,753.3 L1281.2,754.9 L1281.5,756.4 L1281.7,758.0 L1282.0,759.6 L1282.2,761.1 L1282.4,762.6 L1282.6,763.8 L1282.7,765.0 L1282.8,766.1 L1283.0,767.3 L1283.1,768.6 L1283.3,770.0 L1283.7,772.6 L1284.1,775.6 L1284.6,778.7 L1285.1,782.0 L1285.6,785.3 L1286.1,788.5 L1286.6,791.6 L1287.0,794.7 L1287.5,797.7 L1288.0,800.8 L1288.4,803.9 L1288.9,807.0 L1289.3,810.1 L1289.8,813.2 L1290.2,816.3 L1290.6,819.4 L1291.1,822.5 L1291.7,825.6 L1292.3,828.7 L1293.0,831.8 L1293.8,834.9 L1294.6,838.0 L1295.4,841.0 L1296.3,844.1 L1297.3,847.3 L1298.3,850.6 L1299.3,853.9 L1300.4,857.1 L1301.6,860.0 L1302.8,862.6 L1303.6,864.2 L1304.5,865.7 L1305.3,867.1 L1306.2,868.4 L1307.2,869.5 L1308.3,870.5 L1309.3,871.2 L1310.4,871.9 L1311.6,872.4 L1312.8,872.8 L1314.0,873.1 L1315.3,873.2 L1317.1,873.2 L1319.0,873.0 L1321.0,872.6 L1323.0,872.0 L1324.9,871.1 L1326.6,870.0 L1328.6,868.0 L1330.3,865.5 L1332.0,862.5 L1333.5,859.4 L1335.1,856.4 L1336.7,853.6 L1338.2,851.4 L1339.7,849.3 L1341.2,847.2 L1342.7,845.2 L1344.2,843.1 L1345.6,841.0 L1346.9,838.9 L1348.2,836.8 L1349.5,834.7 L1350.8,832.6 L1352.0,830.5 L1353.1,828.4 L1354.2,826.3 L1355.2,824.2 L1356.2,822.2 L1357.2,820.1 L1358.1,817.9 L1358.8,815.8 L1359.4,813.7 L1359.8,811.6 L1360.2,809.5 L1360.5,807.3 L1360.9,805.2 L1361.3,803.1 L1361.7,801.0 L1362.2,798.9 L1362.6,796.7 L1363.1,794.6 L1363.7,792.6 L1364.5,790.5 L1365.5,788.4 L1366.7,786.2 L1368.1,784.2 L1369.5,782.1 L1370.8,780.0 L1372.1,778.0 L1373.2,776.2 L1374.3,774.4 L1375.3,772.6 L1376.4,770.8 L1377.4,768.9 L1378.4,767.0 L1379.5,764.7 L1380.6,762.2 L1381.6,759.6 L1382.6,757.1 L1383.7,754.7 L1384.7,752.6 L1385.5,751.2 L1386.3,749.9 L1387.1,748.7 L1387.9,747.6 L1388.7,746.4 L1389.5,745.1 L1390.3,743.6 L1391.2,742.1 L1392.0,740.5 L1392.8,738.9 L1393.6,737.2 L1394.4,735.4 L1395.4,733.1 L1396.5,730.5 L1397.6,727.9 L1398.6,725.3 L1399.6,722.9 L1400.5,720.7 L1401.1,719.4 L1401.6,718.2 L1402.1,717.1 L1402.6,716.0 L1403.2,714.8 L1403.7,713.6 L1404.4,712.0 L1405.1,710.3 L1405.7,708.5 L1406.5,706.7 L1407.2,704.9 L1407.9,703.1 L1408.7,701.3 L1409.4,699.6 L1410.2,697.9 L1411.1,696.1 L1411.8,694.4 L1412.6,692.6 L1413.3,690.9 L1414.0,689.1 L1414.7,687.4 L1415.4,685.6 L1416.1,683.9 L1416.8,682.1 L1417.5,680.3 L1418.2,678.5 L1418.9,676.7 L1419.6,675.0 L1420.3,673.2 L1421.0,671.6 L1421.6,670.2 L1422.3,668.9 L1422.9,667.6 L1423.6,666.3 L1424.3,665.1 L1425.0,664.0 L1425.7,663.0 L1426.4,662.0 L1427.2,661.0 L1428.0,660.2 L1428.7,659.6 L1429.5,659.5 L1430.7,660.2 L1431.9,661.8 L1433.1,664.0 L1434.3,666.6 L1435.3,669.4 L1436.3,672.0 L1437.3,675.5 L1438.2,679.4 L1438.9,683.6 L1439.5,687.9 L1440.1,692.1 L1440.7,696.3 L1441.3,700.4 L1441.9,704.4 L1442.4,708.5 L1442.9,712.6 L1443.4,716.6 L1443.9,720.7 L1444.3,724.8 L1444.8,728.8 L1445.2,732.9 L1445.5,737.0 L1445.9,741.0 L1446.3,745.1 L1446.7,749.2 L1447.0,753.2 L1447.4,757.3 L1447.8,761.4 L1448.1,765.4 L1448.5,769.5 L1448.9,773.6 L1449.3,777.6 L1449.7,781.7 L1450.2,785.8 L1450.6,789.8 L1451.0,793.9 L1451.4,798.0 L1451.8,802.1 L1452.2,806.3 L1452.7,810.4 L1453.0,814.4 L1453.4,818.3 L1453.7,821.8 L1454.0,825.2 L1454.2,828.6 L1454.5,831.9 L1454.7,835.0 L1455.0,837.8 L1455.2,839.5 L1455.4,840.9 L1455.5,842.3 L1455.7,843.6 L1456.0,845.1 L1456.2,846.9 L1456.7,850.6 L1457.3,854.8 L1458.0,859.5 L1458.7,864.4 L1459.5,869.2 L1460.2,873.9 L1460.9,878.4 L1461.6,882.9 L1462.3,887.4 L1463.1,891.9 L1464.0,896.3 L1464.9,900.8 L1465.9,905.4 L1466.9,910.1 L1468.0,914.8 L1469.2,919.3 L1470.6,923.7 L1472.3,927.7 L1473.9,930.9 L1475.7,933.9 L1477.6,936.7 L1479.6,939.4 L1481.7,942.0 L1484.0,944.5 L1486.4,946.9 L1488.9,949.3 L1491.5,951.5 L1494.2,953.6 L1497.1,955.4 L1500.0,957.0 L1503.1,958.2 L1506.2,959.2 L1509.5,959.8 L1512.9,960.4 L1516.4,960.9 L1520.0,961.5 L1524.4,962.2 L1529.0,962.9 L1533.7,963.5 L1538.5,964.0 L1543.3,964.5 L1548.0,965.0 L1552.6,965.4 L1557.3,965.8 L1562.0,966.1 L1566.5,966.4 L1570.9,966.7 L1575.0,967.0 L1578.3,967.3 L1581.8,967.5 L1585.3,967.8 L1588.2,968.1 L1590.2,968.2 L1591.0,968.3" fill="none" stroke="#4B0082" stroke-width="5" stroke-linejoin="round" stroke-linecap="butt"/>
<path d="M990.3,868.0 L990.6,867.9 L991.2,867.6 L992.2,867.3 L993.4,866.9 L994.5,866.6 L995.6,866.5 L996.8,866.6 L998.0,866.8 L999.3,867.2 L1000.6,867.6 L1001.9,867.9 L1003.2,868.0 L1004.4,868.0 L1005.7,867.8 L1006.9,867.6 L1008.2,867.4 L1009.4,867.1 L1010.7,866.9 L1012.2,866.6 L1013.7,866.4 L1015.2,866.1 L1016.7,865.7 L1018.3,865.4 L1019.8,865.0 L1021.4,864.6 L1023.0,864.2 L1024.7,863.7 L1026.3,863.2 L1028.0,862.6 L1029.7,862.0 L1031.8,861.1 L1033.9,860.0 L1036.1,858.8 L1038.3,857.7 L1040.4,856.7 L1042.5,855.9 L1044.2,855.5 L1045.8,855.3 L1047.5,855.1 L1049.1,855.0 L1050.7,854.8 L1052.4,854.4 L1054.3,853.8 L1056.2,853.0 L1058.1,852.1 L1060.0,851.2 L1061.9,850.1 L1063.8,849.1 L1065.7,848.0 L1067.6,846.8 L1069.4,845.5 L1071.2,844.2 L1073.1,842.9 L1075.1,841.5 L1077.5,839.8 L1079.9,837.9 L1082.4,836.0 L1085.0,834.2 L1087.5,832.5 L1090.0,831.2 L1092.1,830.4 L1094.2,829.7 L1096.3,829.2 L1098.4,828.8 L1100.5,828.4 L1102.6,828.1 L1104.7,827.9 L1106.8,827.8 L1109.0,827.8 L1111.1,827.8 L1113.2,827.7 L1115.3,827.4 L1117.4,827.0 L1119.6,826.5 L1121.7,826.0 L1123.8,825.3 L1125.8,824.6 L1127.9,823.7 L1130.1,822.6 L1132.2,821.4 L1134.3,820.0 L1136.4,818.6 L1138.4,817.1 L1140.5,815.5 L1142.8,813.7 L1145.1,811.9 L1147.4,809.9 L1149.6,808.0 L1151.7,806.0 L1153.7,804.1 L1155.3,802.5 L1156.7,801.0 L1158.1,799.5 L1159.4,797.9 L1160.7,796.4 L1162.0,794.8 L1163.2,793.3 L1164.3,791.8 L1165.4,790.3 L1166.5,788.7 L1167.5,787.2 L1168.5,785.6 L1169.3,784.1 L1170.1,782.5 L1170.8,781.0 L1171.6,779.4 L1172.3,777.8 L1173.1,776.3 L1174.0,774.8 L1174.9,773.3 L1175.9,771.9 L1176.8,770.4 L1177.8,768.8 L1178.7,767.0 L1179.9,764.3 L1181.1,761.4 L1182.3,758.2 L1183.5,754.9 L1184.6,751.7 L1185.6,748.5 L1186.5,745.4 L1187.4,742.2 L1188.2,739.0 L1189.0,735.9 L1189.8,732.9 L1190.7,730.0 L1191.5,727.8 L1192.3,725.8 L1193.2,723.8 L1194.0,721.8 L1194.9,719.8 L1195.7,717.6 L1196.7,714.7 L1197.7,711.7 L1198.6,708.6 L1199.6,705.4 L1200.5,702.2 L1201.3,699.1 L1202.0,696.0 L1202.7,692.9 L1203.2,689.9 L1203.8,686.8 L1204.4,683.7 L1205.0,680.6 L1205.7,677.5 L1206.4,674.4 L1207.1,671.3 L1207.8,668.2 L1208.5,665.1 L1209.2,662.0 L1209.8,658.9 L1210.5,655.8 L1211.1,652.7 L1211.7,649.7 L1212.3,646.6 L1212.9,643.5 L1213.5,640.4 L1214.1,637.3 L1214.8,634.3 L1215.4,631.2 L1216.0,628.1 L1216.6,625.0 L1217.2,621.9 L1217.8,618.7 L1218.4,615.6 L1219.0,612.4 L1219.7,609.2 L1220.3,605.8 L1221.0,601.8 L1221.8,597.6 L1222.6,593.4 L1223.4,589.1 L1224.1,584.8 L1224.9,580.5 L1225.7,576.2 L1226.5,571.9 L1227.2,567.5 L1228.0,563.3 L1228.8,559.2 L1229.5,555.3 L1230.1,552.4 L1230.6,549.5 L1231.2,546.8 L1231.7,544.2 L1232.2,541.7 L1232.6,539.3 L1232.9,537.7 L1233.1,536.2 L1233.4,534.8 L1233.6,533.4 L1233.8,531.8 L1234.1,530.0 L1234.7,526.4 L1235.3,522.2 L1236.0,517.6 L1236.7,512.9 L1237.4,508.3 L1238.1,504.1 L1238.7,500.8 L1239.3,497.7 L1240.0,494.7 L1240.6,491.7 L1241.3,488.6 L1241.9,485.6 L1242.5,482.5 L1243.1,479.4 L1243.7,476.3 L1244.3,473.2 L1244.9,470.1 L1245.6,467.0 L1246.3,463.9 L1247.1,460.8 L1247.9,457.7 L1248.7,454.6 L1249.5,451.5 L1250.2,448.5 L1250.8,445.6 L1251.3,442.7 L1251.8,439.9 L1252.3,437.0 L1252.9,434.2 L1253.4,431.5 L1253.9,429.1 L1254.5,426.7 L1255.0,424.3 L1255.6,422.0 L1256.1,419.7 L1256.7,417.6 L1257.1,415.9 L1257.6,414.4 L1258.0,412.8 L1258.5,411.3 L1258.9,409.8 L1259.4,408.3 L1259.9,406.7 L1260.3,405.2 L1260.8,403.6 L1261.3,402.0 L1261.7,400.5 L1262.2,399.1 L1262.6,397.9 L1262.9,396.7 L1263.3,395.5 L1263.7,394.4 L1264.1,393.4 L1264.5,392.5 L1264.9,391.9 L1265.3,391.2 L1265.7,390.6 L1266.1,390.1 L1266.5,389.8 L1266.9,389.7 L1267.3,389.8 L1267.6,390.2 L1268.0,390.7 L1268.4,391.2 L1268.7,391.9 L1269.0,392.5 L1269.4,393.4 L1269.6,394.4 L1269.9,395.5 L1270.1,396.7 L1270.3,397.9 L1270.6,399.1 L1271.0,400.5 L1271.4,402.1 L1271.8,403.6 L1272.2,405.2 L1272.5,406.7 L1272.9,408.3 L1273.2,409.8 L1273.6,411.3 L1273.9,412.9 L1274.2,414.4 L1274.4,416.0 L1274.7,417.6 L1275.0,419.5 L1275.2,421.5 L1275.4,423.5 L1275.6,425.6 L1275.8,427.8 L1276.1,430.0 L1276.5,432.9 L1276.9,435.9 L1277.3,439.0 L1277.7,442.2 L1278.1,445.4 L1278.4,448.5 L1278.7,451.6 L1278.9,454.7 L1279.2,457.7 L1279.4,460.8 L1279.6,463.9 L1279.8,467.0 L1280.0,470.1 L1280.3,473.2 L1280.5,476.3 L1280.7,479.4 L1281.0,482.5 L1281.2,485.6 L1281.4,488.7 L1281.7,491.8 L1281.9,494.9 L1282.1,497.9 L1282.4,501.0 L1282.6,504.1 L1282.8,507.2 L1283.1,510.4 L1283.3,513.6 L1283.6,516.7 L1283.8,519.7 L1284.0,522.6 L1284.1,524.8 L1284.2,526.9 L1284.3,528.9 L1284.4,530.9 L1284.5,532.9 L1284.6,535.0 L1284.7,537.2 L1284.9,539.4 L1285.1,541.6 L1285.2,543.8 L1285.4,546.1 L1285.6,548.5 L1285.8,551.4 L1286.0,554.4 L1286.2,557.6 L1286.5,560.7 L1286.7,563.9 L1286.9,567.0 L1287.1,570.1 L1287.4,573.2 L1287.6,576.3 L1287.9,579.4 L1288.1,582.5 L1288.3,585.6 L1288.5,588.7 L1288.7,591.8 L1288.8,594.9 L1289.0,597.9 L1289.1,601.0 L1289.3,604.1 L1289.5,607.2 L1289.7,610.3 L1290.0,613.4 L1290.2,616.5 L1290.4,619.6 L1290.6,622.6 L1290.7,625.4 L1290.8,628.2 L1290.9,631.0 L1291.0,633.7 L1291.2,636.5 L1291.3,639.3 L1291.5,642.3 L1291.7,645.3 L1291.9,648.3 L1292.2,651.3 L1292.4,654.5 L1292.7,657.8 L1293.0,662.1 L1293.4,666.7 L1293.7,671.4 L1294.1,676.1 L1294.4,680.9 L1294.8,685.6 L1295.2,690.2 L1295.6,694.9 L1296.0,699.5 L1296.5,704.1 L1296.9,708.7 L1297.3,713.3 L1297.7,717.7 L1298.0,722.0 L1298.3,726.4 L1298.6,730.7 L1299.0,735.0 L1299.4,739.3 L1299.9,743.7 L1300.4,748.3 L1301.0,752.9 L1301.5,757.3 L1302.1,761.5 L1302.6,765.3 L1302.9,767.7 L1303.2,769.8 L1303.5,771.9 L1303.7,773.9 L1304.1,775.9 L1304.5,777.9 L1305.0,780.0 L1305.5,782.2 L1306.1,784.3 L1306.7,786.5 L1307.4,788.5 L1308.3,790.5 L1309.3,792.4 L1310.3,794.3 L1311.5,796.2 L1312.7,797.9 L1314.0,799.4 L1315.3,800.6 L1316.3,801.3 L1317.3,801.9 L1318.3,802.4 L1319.3,802.7 L1320.4,803.0 L1321.6,803.1 L1323.2,803.1 L1324.9,802.9 L1326.6,802.6 L1328.4,802.1 L1330.1,801.4 L1331.7,800.6 L1333.4,799.4 L1335.0,797.9 L1336.5,796.2 L1337.9,794.3 L1339.3,792.4 L1340.5,790.5 L1341.6,788.5 L1342.5,786.5 L1343.3,784.4 L1344.1,782.2 L1344.8,780.0 L1345.6,777.9 L1346.4,775.8 L1347.1,773.7 L1347.9,771.6 L1348.6,769.5 L1349.3,767.4 L1350.0,765.3 L1350.7,763.2 L1351.3,761.1 L1351.9,759.0 L1352.6,756.8 L1353.2,754.7 L1353.8,752.6 L1354.4,750.5 L1355.1,748.4 L1355.7,746.4 L1356.3,744.3 L1357.0,742.2 L1357.6,740.0 L1358.2,737.7 L1358.9,735.4 L1359.5,733.1 L1360.1,730.7 L1360.8,728.1 L1361.5,725.2 L1362.7,720.0 L1364.1,714.1 L1365.5,707.7 L1367.0,701.1 L1368.4,694.5 L1369.8,688.1 L1371.1,681.9 L1372.4,675.8 L1373.6,669.6 L1374.8,663.4 L1376.0,657.3 L1377.2,651.1 L1378.3,644.9 L1379.5,638.8 L1380.6,632.6 L1381.6,626.4 L1382.7,620.3 L1383.7,614.1 L1384.7,607.8 L1385.7,601.3 L1386.7,594.8 L1387.6,588.5 L1388.5,582.5 L1389.3,577.0 L1389.9,573.3 L1390.4,569.9 L1390.9,566.7 L1391.3,563.5 L1391.8,560.4 L1392.3,557.1 L1392.8,553.6 L1393.4,550.0 L1393.9,546.4 L1394.5,542.9 L1395.0,539.4 L1395.5,536.0 L1395.9,533.1 L1396.4,530.3 L1396.8,527.5 L1397.2,524.7 L1397.6,521.9 L1398.1,519.1 L1398.6,516.0 L1399.1,512.9 L1399.7,509.8 L1400.2,506.6 L1400.8,503.4 L1401.3,500.2 L1401.8,496.8 L1402.4,493.3 L1402.9,489.7 L1403.4,486.2 L1403.9,482.6 L1404.5,479.1 L1405.1,475.6 L1405.7,472.1 L1406.3,468.6 L1406.9,465.1 L1407.5,461.6 L1408.1,458.1 L1408.7,454.6 L1409.3,451.1 L1409.9,447.6 L1410.6,444.1 L1411.2,440.6 L1411.8,437.1 L1412.4,433.6 L1413.0,430.1 L1413.7,426.6 L1414.3,423.0 L1414.9,419.5 L1415.5,416.0 L1416.1,412.5 L1416.7,408.9 L1417.3,405.3 L1417.9,401.7 L1418.6,398.3 L1419.2,395.0 L1419.8,392.3 L1420.4,389.8 L1421.0,387.3 L1421.5,384.9 L1422.1,382.5 L1422.6,380.2 L1423.0,378.3 L1423.3,376.6 L1423.6,374.8 L1423.9,373.1 L1424.2,371.4 L1424.5,369.7 L1424.8,367.9 L1425.2,366.2 L1425.5,364.4 L1425.9,362.6 L1426.2,360.9 L1426.6,359.1 L1426.9,357.3 L1427.3,355.6 L1427.6,353.9 L1428.0,352.1 L1428.4,350.4 L1428.7,348.6 L1429.0,346.8 L1429.3,344.9 L1429.7,343.0 L1430.0,341.1 L1430.4,339.5 L1430.8,338.0 L1431.1,337.1 L1431.4,336.2 L1431.8,335.4 L1432.2,334.7 L1432.5,334.2 L1432.9,334.0 L1433.3,334.2 L1433.7,334.6 L1434.1,335.3 L1434.5,336.2 L1434.9,337.1 L1435.3,338.0 L1435.8,339.5 L1436.4,341.1 L1436.8,343.0 L1437.3,344.9 L1437.7,346.8 L1438.1,348.6 L1438.4,350.3 L1438.7,352.1 L1439.0,353.8 L1439.2,355.6 L1439.5,357.3 L1439.7,359.1 L1439.9,360.8 L1440.1,362.5 L1440.3,364.1 L1440.5,365.9 L1440.6,367.7 L1440.8,369.7 L1441.0,372.9 L1441.2,376.5 L1441.4,380.3 L1441.5,384.2 L1441.7,388.1 L1442.0,392.0 L1442.3,396.0 L1442.7,400.0 L1443.1,404.1 L1443.6,408.2 L1444.0,412.2 L1444.4,416.3 L1444.8,420.4 L1445.2,424.4 L1445.7,428.5 L1446.1,432.6 L1446.5,436.6 L1446.8,440.7 L1447.1,444.8 L1447.3,448.8 L1447.5,452.9 L1447.6,457.0 L1447.8,461.0 L1448.0,465.1 L1448.2,469.2 L1448.4,473.2 L1448.7,477.3 L1448.9,481.4 L1449.1,485.4 L1449.3,489.5 L1449.5,493.6 L1449.7,497.6 L1449.9,501.6 L1450.1,505.7 L1450.3,509.8 L1450.5,513.9 L1450.7,518.1 L1450.9,522.1 L1451.1,526.2 L1451.3,530.5 L1451.5,535.0 L1451.7,540.0 L1452.1,548.5 L1452.4,558.1 L1452.8,568.3 L1453.2,578.7 L1453.7,589.0 L1454.1,598.8 L1454.5,607.2 L1454.9,615.4 L1455.3,623.5 L1455.8,631.5 L1456.2,639.5 L1456.6,647.6 L1457.0,655.7 L1457.4,663.8 L1457.8,672.0 L1458.2,680.1 L1458.6,688.2 L1459.0,696.3 L1459.4,704.4 L1459.8,712.6 L1460.2,720.7 L1460.6,728.8 L1461.0,737.0 L1461.5,745.1 L1462.0,753.3 L1462.7,761.5 L1463.3,769.7 L1463.9,777.8 L1464.5,785.9 L1465.1,793.9 L1465.5,801.5 L1465.9,809.3 L1466.2,816.9 L1466.6,824.4 L1467.0,831.4 L1467.6,837.8 L1468.1,841.9 L1468.6,845.7 L1469.2,849.3 L1469.8,852.8 L1470.4,856.3 L1471.0,860.0 L1471.6,864.1 L1472.3,868.3 L1472.9,872.6 L1473.6,876.8 L1474.3,881.0 L1475.0,885.0 L1475.6,888.5 L1476.2,891.9 L1476.8,895.2 L1477.4,898.4 L1478.2,901.7 L1479.0,905.0 L1480.0,908.4 L1481.0,911.8 L1482.1,915.3 L1483.3,918.6 L1484.6,921.9 L1486.0,925.0 L1487.3,927.7 L1488.6,930.4 L1490.0,932.9 L1491.5,935.4 L1493.2,937.7 L1495.0,940.0 L1497.1,942.3 L1499.4,944.5 L1501.9,946.6 L1504.5,948.6 L1507.2,950.4 L1510.0,952.0 L1513.0,953.4 L1516.2,954.6 L1519.4,955.6 L1522.8,956.4 L1526.4,957.2 L1530.0,958.0 L1534.6,958.9 L1539.5,959.6 L1544.6,960.3 L1549.7,960.9 L1554.9,961.4 L1560.0,962.0 L1565.9,962.6 L1572.6,963.3 L1579.3,963.9 L1585.2,964.5 L1589.4,964.9 L1591.0,965.0" fill="none" stroke="#FF0000" stroke-width="5" stroke-linejoin="round" stroke-linecap="butt"/>
<path d="M990.3,880.9 L990.8,880.9 L992.0,880.9 L993.8,880.8 L995.8,880.7 L997.7,880.5 L999.4,880.2 L1000.7,879.8 L1001.9,879.3 L1003.1,878.7 L1004.3,878.1 L1005.6,877.5 L1006.9,877.1 L1008.6,876.8 L1010.5,876.7 L1012.4,876.7 L1014.4,876.7 L1016.4,876.6 L1018.3,876.4 L1020.2,876.0 L1022.1,875.6 L1024.0,875.0 L1025.9,874.5 L1027.8,873.9 L1029.7,873.3 L1031.6,872.7 L1033.6,872.1 L1035.5,871.5 L1037.4,870.8 L1039.3,870.2 L1041.0,869.5 L1042.3,868.9 L1043.6,868.2 L1044.8,867.6 L1046.0,866.9 L1047.2,866.3 L1048.6,865.8 L1050.4,865.3 L1052.2,865.0 L1054.2,864.8 L1056.2,864.5 L1058.1,864.1 L1060.0,863.5 L1061.9,862.6 L1063.8,861.5 L1065.7,860.3 L1067.5,859.0 L1069.4,857.8 L1071.3,856.7 L1073.2,855.7 L1075.1,854.8 L1077.1,853.8 L1079.0,853.0 L1080.9,852.4 L1082.7,852.1 L1084.0,852.1 L1085.2,852.4 L1086.4,852.7 L1087.6,853.1 L1088.9,853.4 L1090.2,853.4 L1092.1,853.0 L1094.1,852.3 L1096.2,851.4 L1098.3,850.5 L1100.5,849.6 L1102.6,848.9 L1104.7,848.5 L1106.8,848.2 L1109.0,848.0 L1111.1,847.8 L1113.2,847.5 L1115.3,847.0 L1117.4,846.2 L1119.6,845.3 L1121.7,844.2 L1123.7,843.0 L1125.8,841.9 L1127.9,840.7 L1130.0,839.5 L1132.2,838.2 L1134.3,836.8 L1136.4,835.5 L1138.5,834.3 L1140.5,833.1 L1142.3,832.2 L1144.2,831.4 L1146.1,830.6 L1147.8,829.9 L1149.5,829.0 L1150.9,828.1 L1151.8,827.3 L1152.7,826.5 L1153.4,825.7 L1154.1,824.8 L1154.8,823.8 L1155.6,822.6 L1157.2,820.2 L1159.0,817.3 L1161.0,814.1 L1162.9,810.7 L1164.9,807.3 L1166.7,804.1 L1168.5,801.0 L1170.2,798.0 L1171.9,794.9 L1173.6,791.8 L1175.3,788.7 L1176.9,785.6 L1178.5,782.5 L1180.1,779.4 L1181.7,776.3 L1183.2,773.2 L1184.7,770.1 L1186.1,767.0 L1187.5,763.9 L1188.8,760.9 L1190.1,757.8 L1191.3,754.7 L1192.4,751.6 L1193.5,748.5 L1194.4,745.4 L1195.3,742.2 L1196.1,739.0 L1196.8,735.9 L1197.4,732.9 L1198.1,730.0 L1198.6,727.8 L1199.0,725.8 L1199.4,723.8 L1199.8,721.8 L1200.3,719.8 L1200.8,717.6 L1201.6,714.7 L1202.5,711.7 L1203.5,708.6 L1204.5,705.4 L1205.5,702.2 L1206.4,699.1 L1207.2,696.0 L1208.0,692.9 L1208.8,689.9 L1209.5,686.8 L1210.2,683.7 L1211.0,680.6 L1211.8,677.5 L1212.6,674.4 L1213.3,671.3 L1214.1,668.2 L1214.9,665.1 L1215.6,662.0 L1216.3,658.9 L1216.9,655.7 L1217.6,652.6 L1218.2,649.5 L1218.8,646.4 L1219.4,643.5 L1219.9,641.1 L1220.4,638.7 L1220.9,636.4 L1221.4,634.2 L1221.9,631.9 L1222.4,629.6 L1222.9,627.3 L1223.3,624.9 L1223.7,622.6 L1224.2,620.2 L1224.6,617.9 L1225.0,615.5 L1225.4,613.0 L1225.8,610.5 L1226.2,607.9 L1226.7,605.4 L1227.1,602.8 L1227.5,600.3 L1227.9,597.8 L1228.4,595.3 L1228.9,592.7 L1229.3,590.2 L1229.8,587.7 L1230.3,585.2 L1230.8,582.7 L1231.2,580.2 L1231.7,577.6 L1232.2,575.1 L1232.7,572.6 L1233.3,570.0 L1234.0,567.3 L1234.7,564.5 L1235.5,561.7 L1236.2,558.9 L1236.9,556.2 L1237.5,553.5 L1237.9,551.2 L1238.3,549.0 L1238.6,546.8 L1238.9,544.6 L1239.2,542.3 L1239.5,540.0 L1239.9,537.2 L1240.4,534.4 L1240.8,531.5 L1241.3,528.5 L1241.8,525.6 L1242.3,522.6 L1242.8,519.5 L1243.4,516.5 L1243.9,513.4 L1244.5,510.3 L1245.0,507.2 L1245.6,504.1 L1246.2,501.0 L1246.8,497.9 L1247.5,494.9 L1248.1,491.8 L1248.7,488.7 L1249.3,485.6 L1249.9,482.5 L1250.4,479.4 L1250.9,476.3 L1251.4,473.2 L1251.9,470.1 L1252.5,467.0 L1253.1,463.9 L1253.8,460.8 L1254.5,457.6 L1255.3,454.5 L1256.0,451.5 L1256.7,448.5 L1257.3,445.8 L1258.0,443.0 L1258.6,440.2 L1259.2,437.6 L1259.8,435.2 L1260.4,433.0 L1260.7,431.8 L1261.0,430.8 L1261.3,429.8 L1261.5,428.9 L1261.8,427.9 L1262.2,426.9 L1262.7,425.3 L1263.3,423.4 L1263.9,421.4 L1264.5,419.6 L1265.2,418.3 L1265.9,417.8 L1266.5,418.0 L1267.1,418.7 L1267.7,419.7 L1268.3,420.9 L1268.9,422.0 L1269.5,423.0 L1269.9,423.6 L1270.4,424.2 L1270.8,424.7 L1271.2,425.3 L1271.6,426.0 L1271.9,426.9 L1272.5,429.5 L1272.9,432.8 L1273.1,436.7 L1273.3,440.8 L1273.5,444.8 L1273.8,448.5 L1274.1,451.7 L1274.4,454.8 L1274.7,457.8 L1275.0,460.9 L1275.3,463.9 L1275.6,467.0 L1275.9,470.1 L1276.2,473.2 L1276.6,476.3 L1276.9,479.4 L1277.2,482.5 L1277.5,485.6 L1277.8,488.7 L1278.0,491.8 L1278.2,494.9 L1278.5,497.9 L1278.7,501.0 L1278.9,504.1 L1279.1,507.2 L1279.4,510.3 L1279.6,513.4 L1279.9,516.5 L1280.1,519.6 L1280.3,522.6 L1280.5,525.5 L1280.6,528.4 L1280.8,531.3 L1280.9,534.1 L1281.1,536.8 L1281.2,539.3 L1281.3,541.0 L1281.4,542.5 L1281.6,543.9 L1281.7,545.3 L1281.8,546.8 L1281.9,548.5 L1282.1,551.2 L1282.2,554.2 L1282.3,557.3 L1282.5,560.6 L1282.6,563.8 L1282.8,567.0 L1283.0,570.1 L1283.2,573.2 L1283.5,576.3 L1283.8,579.4 L1284.0,582.5 L1284.2,585.6 L1284.4,588.7 L1284.5,591.8 L1284.6,594.9 L1284.8,597.9 L1284.9,601.0 L1285.1,604.1 L1285.3,607.2 L1285.5,610.3 L1285.8,613.4 L1286.0,616.5 L1286.3,619.6 L1286.5,622.6 L1286.7,625.4 L1286.8,628.2 L1286.9,631.0 L1287.1,633.7 L1287.2,636.5 L1287.4,639.3 L1287.6,642.3 L1287.9,645.3 L1288.2,648.3 L1288.4,651.3 L1288.7,654.5 L1289.0,657.8 L1289.3,662.1 L1289.7,666.6 L1290.0,671.3 L1290.4,676.1 L1290.8,680.9 L1291.1,685.6 L1291.4,690.2 L1291.8,694.9 L1292.1,699.5 L1292.4,704.1 L1292.7,708.7 L1293.1,713.3 L1293.5,717.7 L1293.8,722.0 L1294.2,726.4 L1294.6,730.7 L1295.0,735.0 L1295.5,739.3 L1296.0,743.6 L1296.5,748.0 L1297.1,752.3 L1297.6,756.7 L1298.2,761.0 L1298.8,765.3 L1299.4,769.6 L1300.0,774.1 L1300.7,778.5 L1301.3,782.8 L1302.0,786.8 L1302.6,790.5 L1303.0,792.9 L1303.4,795.0 L1303.7,797.1 L1304.1,799.1 L1304.6,801.1 L1305.2,803.1 L1305.9,805.3 L1306.7,807.5 L1307.5,809.7 L1308.5,811.8 L1309.6,813.9 L1310.8,815.8 L1312.3,817.9 L1314.0,820.2 L1315.9,822.3 L1317.9,824.2 L1319.8,825.4 L1321.6,825.9 L1323.3,825.4 L1325.1,824.1 L1326.8,822.2 L1328.5,820.1 L1330.1,817.8 L1331.7,815.8 L1333.3,813.8 L1334.9,811.8 L1336.5,809.7 L1338.0,807.5 L1339.3,805.3 L1340.5,803.1 L1341.4,801.0 L1342.1,799.0 L1342.6,796.8 L1343.1,794.7 L1343.7,792.6 L1344.3,790.5 L1345.0,788.4 L1345.8,786.3 L1346.5,784.2 L1347.3,782.1 L1348.0,780.0 L1348.7,777.9 L1349.3,775.8 L1349.8,773.7 L1350.3,771.6 L1350.8,769.5 L1351.4,767.4 L1351.9,765.3 L1352.5,763.2 L1353.1,761.1 L1353.7,758.9 L1354.3,756.8 L1354.9,754.7 L1355.5,752.6 L1356.1,750.5 L1356.8,748.4 L1357.4,746.4 L1358.0,744.3 L1358.7,742.2 L1359.4,740.0 L1360.2,737.7 L1361.0,735.4 L1361.8,733.1 L1362.6,730.7 L1363.4,728.1 L1364.3,725.2 L1365.7,720.0 L1367.3,714.1 L1368.9,707.7 L1370.5,701.1 L1372.0,694.5 L1373.5,688.1 L1374.8,681.9 L1376.1,675.8 L1377.4,669.6 L1378.6,663.4 L1379.7,657.3 L1380.9,651.1 L1382.0,644.9 L1383.1,638.8 L1384.2,632.6 L1385.3,626.4 L1386.4,620.2 L1387.4,614.1 L1388.4,608.0 L1389.5,601.7 L1390.5,595.5 L1391.5,589.4 L1392.5,583.5 L1393.4,578.1 L1394.1,574.3 L1394.7,570.7 L1395.3,567.3 L1395.9,563.9 L1396.5,560.5 L1397.1,557.1 L1397.7,553.6 L1398.4,550.0 L1399.0,546.4 L1399.6,542.9 L1400.2,539.4 L1400.8,536.0 L1401.3,533.1 L1401.7,530.3 L1402.2,527.5 L1402.6,524.7 L1403.0,522.0 L1403.4,519.1 L1403.8,516.0 L1404.3,512.9 L1404.7,509.8 L1405.1,506.6 L1405.5,503.4 L1406.0,500.2 L1406.5,496.7 L1407.0,493.2 L1407.5,489.7 L1408.1,486.2 L1408.6,482.6 L1409.2,479.1 L1409.8,475.6 L1410.4,472.1 L1411.1,468.6 L1411.7,465.1 L1412.3,461.6 L1412.9,458.1 L1413.4,454.6 L1414.0,451.1 L1414.5,447.6 L1414.9,444.1 L1415.5,440.6 L1416.0,437.1 L1416.6,433.6 L1417.2,430.1 L1417.8,426.5 L1418.4,423.0 L1419.1,419.5 L1419.7,416.0 L1420.3,412.5 L1420.9,408.9 L1421.5,405.3 L1422.1,401.7 L1422.7,398.3 L1423.4,395.0 L1424.1,392.3 L1424.8,389.8 L1425.6,387.3 L1426.3,384.8 L1427.0,382.5 L1427.6,380.2 L1428.0,378.4 L1428.3,376.6 L1428.6,374.8 L1428.9,373.2 L1429.2,371.5 L1429.5,370.0 L1429.8,368.7 L1430.1,367.3 L1430.4,365.9 L1430.7,364.7 L1431.1,363.8 L1431.5,363.5 L1432.1,363.8 L1432.9,364.9 L1433.7,366.4 L1434.5,368.2 L1435.3,370.1 L1436.0,372.0 L1436.8,374.8 L1437.5,377.9 L1438.0,381.3 L1438.6,384.8 L1439.0,388.4 L1439.5,392.0 L1440.0,395.9 L1440.5,399.9 L1440.9,404.0 L1441.3,408.1 L1441.6,412.2 L1442.0,416.3 L1442.4,420.4 L1442.7,424.4 L1443.0,428.5 L1443.3,432.6 L1443.6,436.6 L1443.9,440.7 L1444.2,444.8 L1444.5,448.8 L1444.8,452.9 L1445.1,457.0 L1445.3,461.0 L1445.6,465.1 L1445.8,469.2 L1446.1,473.2 L1446.3,477.3 L1446.4,481.4 L1446.6,485.4 L1446.8,489.5 L1447.0,493.5 L1447.1,497.5 L1447.2,501.5 L1447.3,505.5 L1447.5,509.7 L1447.6,513.9 L1447.7,518.8 L1447.9,523.7 L1448.0,528.7 L1448.1,533.9 L1448.3,539.3 L1448.5,545.0 L1448.8,553.4 L1449.2,562.6 L1449.7,572.3 L1450.1,581.9 L1450.6,590.9 L1451.0,598.8 L1451.3,603.4 L1451.5,607.6 L1451.7,611.6 L1452.0,615.4 L1452.2,619.2 L1452.4,623.2 L1452.6,627.3 L1452.7,631.3 L1452.9,635.4 L1453.0,639.5 L1453.2,643.5 L1453.4,647.6 L1453.6,651.7 L1453.9,655.7 L1454.1,659.8 L1454.4,663.9 L1454.7,667.9 L1454.9,672.0 L1455.1,676.1 L1455.3,680.1 L1455.4,684.1 L1455.6,688.2 L1455.7,692.2 L1455.9,696.3 L1456.1,700.4 L1456.3,704.4 L1456.6,708.5 L1456.8,712.6 L1457.1,716.6 L1457.3,720.7 L1457.5,724.8 L1457.7,728.8 L1457.9,732.9 L1458.1,737.0 L1458.3,741.0 L1458.5,745.1 L1458.7,749.2 L1458.9,753.2 L1459.1,757.3 L1459.3,761.4 L1459.6,765.4 L1459.8,769.5 L1460.1,773.6 L1460.4,777.6 L1460.7,781.7 L1461.0,785.8 L1461.2,789.8 L1461.5,793.9 L1461.7,798.0 L1461.9,802.1 L1462.1,806.3 L1462.3,810.4 L1462.5,814.4 L1462.7,818.3 L1462.9,821.8 L1463.0,825.2 L1463.2,828.7 L1463.4,831.9 L1463.6,835.0 L1463.9,837.8 L1464.1,839.5 L1464.4,840.9 L1464.7,842.3 L1465.0,843.6 L1465.3,845.1 L1465.6,846.9 L1466.2,850.6 L1466.8,854.8 L1467.4,859.5 L1468.1,864.4 L1468.8,869.2 L1469.6,873.9 L1470.4,878.4 L1471.3,882.9 L1472.1,887.4 L1473.1,891.8 L1474.0,896.3 L1475.0,900.8 L1476.0,905.3 L1476.9,909.9 L1477.9,914.5 L1478.9,919.0 L1480.2,923.5 L1481.7,927.7 L1483.3,931.7 L1485.1,935.7 L1487.1,939.6 L1489.2,943.3 L1491.5,946.6 L1493.9,949.3 L1495.9,950.9 L1497.9,952.2 L1500.1,953.2 L1502.3,954.1 L1504.7,955.0 L1507.3,956.0 L1511.2,957.5 L1515.5,959.0 L1520.1,960.5 L1524.9,961.8 L1529.7,963.1 L1534.3,964.1 L1538.7,964.9 L1543.2,965.4 L1547.6,965.8 L1552.1,966.1 L1556.6,966.5 L1561.2,966.8 L1566.8,967.2 L1573.2,967.7 L1579.7,968.1 L1585.4,968.5 L1589.5,968.7 L1591.0,968.8" fill="none" stroke="#008000" stroke-width="5" stroke-linejoin="round" stroke-linecap="butt"/>
<path d="M990.3,900.6 L990.7,900.4 L991.7,899.9 L993.2,899.4 L994.8,898.8 L996.4,898.4 L997.8,898.3 L999.0,898.7 L1000.2,899.5 L1001.4,900.5 L1002.6,901.4 L1003.7,902.0 L1004.7,902.1 L1005.6,901.5 L1006.3,900.2 L1007.0,898.7 L1007.6,897.2 L1008.4,896.0 L1009.2,895.3 L1010.0,895.3 L1010.8,895.7 L1011.7,896.4 L1012.6,897.0 L1013.6,897.5 L1014.5,897.6 L1015.7,897.1 L1016.9,896.0 L1018.2,894.7 L1019.5,893.3 L1020.8,892.2 L1022.1,891.5 L1023.3,891.4 L1024.5,891.6 L1025.8,892.0 L1027.1,892.4 L1028.4,892.8 L1029.7,893.0 L1031.3,893.1 L1033.1,893.2 L1034.8,893.3 L1036.6,893.2 L1038.1,892.9 L1039.5,892.3 L1040.5,891.3 L1041.2,889.9 L1041.8,888.2 L1042.4,886.7 L1043.2,885.4 L1044.1,884.7 L1045.5,884.8 L1047.1,885.6 L1048.9,886.8 L1050.7,888.0 L1052.4,889.0 L1053.9,889.2 L1055.0,888.8 L1056.0,888.1 L1057.0,887.1 L1057.9,886.0 L1058.9,884.9 L1060.0,883.9 L1061.4,882.7 L1062.9,881.3 L1064.4,879.9 L1065.9,878.6 L1067.5,877.6 L1069.1,877.1 L1070.6,877.2 L1072.2,877.8 L1073.7,878.6 L1075.3,879.4 L1076.8,880.0 L1078.2,880.2 L1079.3,879.8 L1080.4,879.1 L1081.4,878.2 L1082.3,877.3 L1083.3,876.6 L1084.2,876.4 L1085.0,876.7 L1085.7,877.4 L1086.4,878.3 L1087.2,879.1 L1087.9,879.9 L1088.8,880.2 L1090.0,880.1 L1091.4,879.6 L1092.9,878.8 L1094.3,877.9 L1095.7,876.9 L1097.0,876.0 L1098.0,875.2 L1098.9,874.2 L1099.7,873.2 L1100.5,872.3 L1101.5,871.5 L1102.6,871.0 L1104.4,871.0 L1106.5,871.5 L1108.7,872.4 L1111.0,873.2 L1113.2,873.7 L1115.3,873.5 L1117.6,872.2 L1119.7,870.1 L1121.7,867.4 L1123.7,864.6 L1125.8,861.9 L1127.9,859.6 L1130.0,857.8 L1132.1,855.9 L1134.3,854.2 L1136.4,852.7 L1138.5,851.5 L1140.5,850.8 L1141.8,850.8 L1143.1,851.1 L1144.4,851.6 L1145.7,852.1 L1146.9,852.3 L1148.1,852.1 L1149.9,850.8 L1151.7,848.7 L1153.5,846.1 L1155.2,843.2 L1156.8,840.5 L1158.3,838.3 L1159.2,837.1 L1160.0,836.0 L1160.7,835.0 L1161.4,834.0 L1162.2,833.0 L1163.0,831.9 L1164.1,830.5 L1165.3,829.0 L1166.6,827.4 L1167.8,825.8 L1168.9,824.2 L1169.9,822.6 L1170.6,821.1 L1171.1,819.6 L1171.6,818.1 L1172.1,816.6 L1172.5,815.0 L1173.1,813.3 L1173.9,811.1 L1174.7,808.8 L1175.6,806.5 L1176.5,804.1 L1177.6,801.7 L1178.7,799.4 L1180.1,797.1 L1181.7,794.9 L1183.4,792.7 L1185.1,790.4 L1186.6,788.1 L1188.0,785.6 L1189.2,782.7 L1190.2,779.7 L1191.1,776.5 L1191.9,773.3 L1192.7,770.1 L1193.5,767.0 L1194.4,763.9 L1195.2,760.8 L1196.0,757.7 L1196.9,754.7 L1197.7,751.6 L1198.6,748.5 L1199.6,745.4 L1200.6,742.2 L1201.7,739.0 L1202.7,735.9 L1203.7,732.9 L1204.6,730.0 L1205.2,727.8 L1205.8,725.8 L1206.3,723.8 L1206.8,721.8 L1207.3,719.8 L1207.8,717.6 L1208.5,714.7 L1209.2,711.7 L1209.9,708.6 L1210.7,705.4 L1211.5,702.2 L1212.4,699.1 L1213.4,696.0 L1214.4,692.9 L1215.5,689.8 L1216.6,686.8 L1217.7,683.7 L1218.9,680.6 L1220.1,677.5 L1221.4,674.4 L1222.6,671.3 L1223.9,668.2 L1225.1,665.1 L1226.3,662.0 L1227.4,658.9 L1228.4,655.8 L1229.4,652.6 L1230.3,649.5 L1231.3,646.5 L1232.3,643.5 L1233.2,640.8 L1234.2,638.2 L1235.2,635.6 L1236.2,633.1 L1237.0,630.6 L1237.8,628.1 L1238.4,625.9 L1238.9,623.8 L1239.4,621.7 L1239.8,619.6 L1240.2,617.5 L1240.6,615.5 L1241.0,613.8 L1241.3,612.1 L1241.6,610.4 L1241.9,608.7 L1242.2,607.1 L1242.6,605.4 L1243.0,603.7 L1243.5,601.9 L1244.0,600.1 L1244.5,598.3 L1245.0,596.6 L1245.5,595.0 L1245.9,593.7 L1246.2,592.4 L1246.6,591.2 L1247.0,589.9 L1247.3,588.7 L1247.7,587.5 L1248.1,586.3 L1248.5,585.1 L1248.8,584.0 L1249.2,582.8 L1249.6,581.7 L1250.0,580.5 L1250.4,579.4 L1250.7,578.2 L1251.1,577.1 L1251.5,576.0 L1251.8,574.8 L1252.2,573.7 L1252.6,572.6 L1252.9,571.5 L1253.3,570.3 L1253.6,569.2 L1254.0,568.1 L1254.4,567.0 L1254.8,565.9 L1255.2,564.7 L1255.7,563.5 L1256.1,562.4 L1256.6,561.3 L1257.1,560.2 L1257.6,559.2 L1258.1,558.1 L1258.7,557.1 L1259.3,556.1 L1259.9,555.2 L1260.5,554.5 L1261.0,554.0 L1261.5,553.6 L1262.1,553.2 L1262.6,552.9 L1263.2,552.7 L1263.7,552.6 L1264.2,552.7 L1264.8,552.9 L1265.3,553.2 L1265.8,553.6 L1266.3,554.1 L1266.8,554.5 L1267.3,555.0 L1267.7,555.4 L1268.2,555.9 L1268.6,556.5 L1269.0,557.1 L1269.4,557.8 L1270.1,559.0 L1270.8,560.5 L1271.4,562.1 L1272.1,563.7 L1272.7,565.4 L1273.1,567.0 L1273.4,568.5 L1273.6,570.1 L1273.7,571.6 L1273.8,573.2 L1273.9,574.7 L1274.0,576.3 L1274.1,577.8 L1274.3,579.3 L1274.4,580.8 L1274.6,582.3 L1274.7,583.9 L1274.9,585.6 L1275.1,588.3 L1275.4,591.3 L1275.6,594.5 L1275.9,597.7 L1276.1,600.9 L1276.3,604.1 L1276.5,607.2 L1276.6,610.3 L1276.7,613.4 L1276.9,616.5 L1277.0,619.6 L1277.2,622.6 L1277.4,625.4 L1277.6,628.2 L1277.8,631.0 L1278.1,633.7 L1278.3,636.5 L1278.6,639.3 L1278.9,642.3 L1279.2,645.3 L1279.6,648.3 L1279.9,651.3 L1280.3,654.5 L1280.6,657.8 L1281.0,662.1 L1281.4,666.6 L1281.8,671.3 L1282.2,676.1 L1282.6,680.9 L1283.0,685.6 L1283.4,690.2 L1283.8,694.9 L1284.2,699.5 L1284.5,704.1 L1284.9,708.7 L1285.3,713.3 L1285.7,717.7 L1286.0,722.0 L1286.3,726.4 L1286.7,730.7 L1287.1,735.0 L1287.6,739.3 L1288.2,743.6 L1289.0,748.0 L1289.8,752.3 L1290.6,756.7 L1291.3,761.0 L1291.9,765.3 L1292.3,769.5 L1292.6,773.7 L1292.9,777.9 L1293.1,782.1 L1293.4,786.3 L1293.8,790.5 L1294.3,794.8 L1294.8,799.3 L1295.4,803.7 L1296.0,808.1 L1296.7,812.1 L1297.6,815.8 L1298.3,818.2 L1299.1,820.4 L1299.9,822.4 L1300.8,824.4 L1301.7,826.4 L1302.6,828.4 L1303.5,830.6 L1304.4,833.0 L1305.2,835.3 L1306.2,837.5 L1307.4,839.4 L1308.9,841.0 L1310.6,842.1 L1312.7,843.0 L1314.9,843.6 L1317.2,843.9 L1319.4,844.1 L1321.6,844.2 L1323.7,844.1 L1325.9,843.9 L1328.1,843.5 L1330.2,843.0 L1332.1,842.1 L1333.6,841.0 L1334.7,839.4 L1335.4,837.5 L1335.9,835.3 L1336.3,832.9 L1336.7,830.6 L1337.3,828.4 L1338.2,826.3 L1339.1,824.2 L1340.2,822.1 L1341.2,820.0 L1342.2,817.9 L1343.0,815.8 L1343.7,813.7 L1344.2,811.6 L1344.7,809.5 L1345.2,807.3 L1345.7,805.2 L1346.2,803.1 L1346.8,801.0 L1347.4,798.9 L1348.0,796.8 L1348.7,794.7 L1349.3,792.6 L1350.0,790.5 L1350.7,788.4 L1351.4,786.3 L1352.2,784.2 L1353.0,782.1 L1353.7,780.0 L1354.4,777.9 L1355.1,775.8 L1355.7,773.7 L1356.4,771.6 L1357.0,769.5 L1357.6,767.4 L1358.2,765.3 L1358.7,763.2 L1359.2,761.1 L1359.7,758.9 L1360.2,756.8 L1360.7,754.7 L1361.3,752.6 L1362.0,750.5 L1362.8,748.4 L1363.6,746.4 L1364.4,744.3 L1365.1,742.2 L1365.8,740.0 L1366.4,737.7 L1366.9,735.4 L1367.4,733.0 L1367.9,730.6 L1368.3,728.0 L1368.9,725.2 L1369.8,720.9 L1370.7,716.2 L1371.7,711.2 L1372.8,706.1 L1373.8,701.1 L1374.9,696.3 L1375.9,692.1 L1376.9,688.0 L1377.8,684.0 L1378.9,680.0 L1379.9,676.0 L1381.0,672.0 L1382.1,667.9 L1383.3,663.8 L1384.4,659.8 L1385.7,655.7 L1386.9,651.6 L1388.3,647.6 L1389.8,643.5 L1391.4,639.5 L1393.1,635.4 L1394.8,631.3 L1396.5,627.3 L1398.0,623.2 L1399.4,619.2 L1400.7,615.1 L1401.9,611.0 L1403.1,607.0 L1404.3,602.9 L1405.4,598.8 L1406.5,594.7 L1407.5,590.6 L1408.5,586.4 L1409.5,582.3 L1410.5,578.3 L1411.5,574.4 L1412.4,571.0 L1413.3,567.7 L1414.2,564.5 L1415.0,561.3 L1415.9,558.1 L1416.8,555.0 L1417.6,552.2 L1418.4,549.5 L1419.2,546.8 L1420.0,544.1 L1420.8,541.3 L1421.7,538.3 L1422.8,534.4 L1423.9,530.3 L1425.1,526.0 L1426.3,521.7 L1427.4,517.6 L1428.5,513.9 L1429.3,511.0 L1430.1,507.9 L1430.8,504.8 L1431.5,502.2 L1432.2,500.5 L1432.9,499.8 L1433.5,500.5 L1434.1,502.3 L1434.7,504.9 L1435.3,507.9 L1435.8,511.0 L1436.3,513.9 L1436.9,517.6 L1437.6,521.7 L1438.1,526.0 L1438.6,530.3 L1439.1,534.4 L1439.5,538.3 L1439.7,541.2 L1439.9,544.0 L1440.1,546.8 L1440.2,549.5 L1440.3,552.2 L1440.5,555.0 L1440.7,558.1 L1440.9,561.3 L1441.2,564.5 L1441.4,567.7 L1441.7,571.0 L1442.0,574.4 L1442.4,578.3 L1442.8,582.3 L1443.2,586.4 L1443.7,590.6 L1444.1,594.7 L1444.4,598.8 L1444.7,602.9 L1444.9,606.9 L1445.1,611.0 L1445.2,615.1 L1445.4,619.1 L1445.6,623.2 L1445.8,627.3 L1446.0,631.3 L1446.2,635.4 L1446.4,639.5 L1446.6,643.5 L1446.8,647.6 L1447.0,651.7 L1447.2,655.7 L1447.4,659.8 L1447.6,663.9 L1447.8,667.9 L1448.0,672.0 L1448.2,676.1 L1448.4,680.1 L1448.7,684.1 L1448.9,688.2 L1449.1,692.2 L1449.3,696.3 L1449.5,700.4 L1449.7,704.4 L1449.9,708.5 L1450.1,712.6 L1450.3,716.6 L1450.5,720.7 L1450.8,724.8 L1451.0,728.8 L1451.3,732.9 L1451.6,737.0 L1451.9,741.0 L1452.2,745.1 L1452.5,749.2 L1452.8,753.2 L1453.2,757.3 L1453.5,761.4 L1453.8,765.4 L1454.1,769.5 L1454.4,773.6 L1454.6,777.6 L1454.8,781.7 L1455.0,785.8 L1455.2,789.8 L1455.4,793.9 L1455.6,798.0 L1455.8,802.1 L1456.0,806.3 L1456.2,810.4 L1456.4,814.4 L1456.6,818.3 L1456.8,821.8 L1457.0,825.2 L1457.2,828.6 L1457.4,831.9 L1457.6,835.0 L1457.8,837.8 L1458.0,839.5 L1458.1,840.9 L1458.3,842.3 L1458.5,843.6 L1458.7,845.1 L1458.9,846.9 L1459.3,850.6 L1459.8,854.8 L1460.4,859.5 L1460.9,864.4 L1461.5,869.2 L1462.2,873.9 L1462.9,878.4 L1463.5,882.9 L1464.3,887.4 L1465.0,891.9 L1465.9,896.3 L1466.9,900.8 L1468.0,905.4 L1469.2,910.1 L1470.5,914.8 L1471.9,919.3 L1473.4,923.7 L1475.0,927.7 L1476.4,930.7 L1477.7,933.6 L1479.2,936.3 L1480.8,938.9 L1482.5,941.5 L1484.4,943.9 L1486.7,946.5 L1489.2,949.0 L1491.8,951.5 L1494.6,953.7 L1497.6,955.7 L1500.6,957.4 L1503.7,958.6 L1506.9,959.5 L1510.3,960.0 L1513.7,960.5 L1517.2,960.9 L1520.8,961.4 L1525.1,962.1 L1529.5,962.7 L1534.0,963.3 L1538.6,963.8 L1543.2,964.3 L1547.7,964.8 L1552.3,965.2 L1556.9,965.6 L1561.6,965.9 L1566.2,966.2 L1570.6,966.5 L1574.7,966.8 L1578.0,967.1 L1581.6,967.3 L1585.1,967.6 L1588.1,967.9 L1590.2,968.0 L1591.0,968.1" fill="none" stroke="#0000FF" stroke-width="5" stroke-linejoin="round" stroke-linecap="butt"/>
<path d="M990.3,874.1 L990.9,874.0 L992.7,873.7 L995.1,873.3 L997.9,872.8 L1000.7,872.3 L1003.2,871.8 L1005.6,871.3 L1008.1,870.9 L1010.7,870.4 L1013.2,869.9 L1015.8,869.4 L1018.3,868.8 L1020.9,868.2 L1023.6,867.6 L1026.2,866.9 L1028.8,866.2 L1031.3,865.6 L1033.5,865.0 L1034.9,864.6 L1036.2,864.3 L1037.4,864.0 L1038.6,863.6 L1039.8,863.2 L1041.0,862.7 L1042.3,862.0 L1043.6,861.0 L1044.8,860.0 L1046.0,859.0 L1047.3,858.1 L1048.6,857.4 L1049.8,856.9 L1051.1,856.6 L1052.4,856.3 L1053.7,856.0 L1055.0,855.7 L1056.2,855.2 L1057.5,854.6 L1058.7,853.8 L1059.9,853.0 L1061.2,852.2 L1062.4,851.4 L1063.8,850.6 L1065.5,849.7 L1067.4,848.8 L1069.3,847.9 L1071.2,847.1 L1073.2,846.2 L1075.1,845.3 L1077.1,844.4 L1079.1,843.4 L1081.2,842.5 L1083.2,841.6 L1085.0,840.8 L1086.5,840.0 L1087.2,839.6 L1087.7,839.3 L1088.2,839.0 L1088.7,838.6 L1089.3,838.3 L1090.0,838.0 L1091.6,837.4 L1093.6,836.8 L1095.8,836.2 L1098.1,835.6 L1100.4,835.0 L1102.6,834.4 L1104.7,833.8 L1106.8,833.3 L1108.9,832.8 L1111.1,832.2 L1113.2,831.7 L1115.3,831.2 L1117.4,830.7 L1119.5,830.3 L1121.6,829.9 L1123.8,829.4 L1125.8,828.8 L1127.9,828.1 L1130.1,827.1 L1132.2,826.0 L1134.4,824.7 L1136.5,823.3 L1138.5,821.9 L1140.5,820.5 L1142.4,819.1 L1144.3,817.6 L1146.2,816.1 L1148.0,814.6 L1149.6,813.1 L1150.9,811.5 L1151.7,810.3 L1152.3,809.2 L1152.9,808.0 L1153.4,806.8 L1153.9,805.5 L1154.6,804.1 L1156.0,801.5 L1157.6,798.6 L1159.4,795.4 L1161.3,792.1 L1163.1,788.8 L1164.8,785.6 L1166.4,782.5 L1168.0,779.4 L1169.6,776.3 L1171.2,773.2 L1172.7,770.1 L1174.1,767.0 L1175.5,763.9 L1176.8,760.9 L1178.0,757.8 L1179.2,754.7 L1180.4,751.6 L1181.5,748.5 L1182.5,745.4 L1183.5,742.2 L1184.4,739.0 L1185.3,735.9 L1186.2,732.9 L1187.0,730.0 L1187.6,727.8 L1188.3,725.8 L1188.9,723.8 L1189.4,721.8 L1190.0,719.8 L1190.6,717.6 L1191.3,714.7 L1192.0,711.7 L1192.8,708.6 L1193.5,705.4 L1194.2,702.2 L1194.8,699.1 L1195.4,696.0 L1196.0,692.9 L1196.5,689.9 L1197.0,686.8 L1197.6,683.7 L1198.1,680.6 L1198.6,677.5 L1199.2,674.4 L1199.7,671.3 L1200.2,668.2 L1200.8,665.1 L1201.3,662.0 L1201.8,658.9 L1202.3,655.8 L1202.9,652.7 L1203.4,649.7 L1203.9,646.6 L1204.5,643.5 L1205.1,640.4 L1205.7,637.3 L1206.3,634.3 L1206.9,631.2 L1207.5,628.1 L1208.2,625.0 L1209.0,621.8 L1209.8,618.7 L1210.7,615.6 L1211.5,612.4 L1212.3,609.2 L1213.1,605.8 L1213.9,601.8 L1214.6,597.6 L1215.3,593.4 L1216.0,589.1 L1216.6,584.8 L1217.3,580.5 L1218.0,576.3 L1218.7,572.1 L1219.4,567.9 L1220.1,563.7 L1220.8,559.5 L1221.5,555.3 L1222.2,551.1 L1222.8,546.9 L1223.4,542.7 L1224.0,538.5 L1224.7,534.2 L1225.3,530.0 L1226.0,525.6 L1226.7,521.2 L1227.4,516.8 L1228.0,512.4 L1228.7,508.2 L1229.4,504.1 L1229.9,500.8 L1230.5,497.7 L1231.0,494.7 L1231.5,491.7 L1232.1,488.7 L1232.6,485.6 L1233.1,482.5 L1233.6,479.4 L1234.2,476.3 L1234.7,473.2 L1235.2,470.1 L1235.8,467.0 L1236.4,463.9 L1237.0,460.8 L1237.7,457.7 L1238.3,454.6 L1238.9,451.6 L1239.5,448.5 L1240.0,445.5 L1240.5,442.5 L1240.9,439.6 L1241.4,436.6 L1241.8,433.8 L1242.3,431.0 L1242.7,428.7 L1243.2,426.5 L1243.6,424.3 L1244.1,422.2 L1244.6,419.9 L1245.1,417.6 L1245.8,414.7 L1246.6,411.7 L1247.4,408.5 L1248.2,405.4 L1249.0,402.2 L1249.7,399.1 L1250.3,396.0 L1250.8,392.9 L1251.2,389.9 L1251.6,386.8 L1252.1,383.7 L1252.5,380.6 L1253.0,377.5 L1253.4,374.4 L1253.8,371.3 L1254.3,368.2 L1254.8,365.1 L1255.3,362.0 L1255.9,358.8 L1256.5,355.4 L1257.2,352.0 L1257.9,348.8 L1258.6,345.9 L1259.4,343.5 L1259.9,342.3 L1260.3,341.3 L1260.8,340.3 L1261.4,339.5 L1261.9,338.7 L1262.5,338.0 L1263.0,337.4 L1263.6,336.9 L1264.2,336.4 L1264.8,336.0 L1265.3,335.7 L1265.9,335.6 L1266.4,335.7 L1267.0,336.0 L1267.5,336.4 L1268.0,336.9 L1268.5,337.4 L1269.0,338.0 L1269.5,338.7 L1270.0,339.5 L1270.4,340.3 L1270.8,341.3 L1271.1,342.3 L1271.5,343.5 L1272.1,345.9 L1272.6,348.8 L1273.1,352.0 L1273.5,355.4 L1273.9,358.8 L1274.3,362.0 L1274.7,365.1 L1275.1,368.2 L1275.5,371.3 L1275.9,374.4 L1276.2,377.5 L1276.6,380.6 L1277.0,383.7 L1277.4,386.8 L1277.8,389.9 L1278.2,392.9 L1278.6,396.0 L1278.9,399.1 L1279.2,402.2 L1279.4,405.4 L1279.6,408.5 L1279.8,411.6 L1280.1,414.7 L1280.3,417.6 L1280.5,420.0 L1280.8,422.3 L1281.0,424.6 L1281.2,426.8 L1281.5,429.1 L1281.7,431.5 L1281.9,434.2 L1282.2,437.0 L1282.4,439.8 L1282.7,442.7 L1282.9,445.6 L1283.1,448.5 L1283.3,451.5 L1283.6,454.6 L1283.8,457.7 L1284.0,460.8 L1284.2,463.9 L1284.4,467.0 L1284.6,470.1 L1284.7,473.2 L1284.9,476.3 L1285.0,479.4 L1285.2,482.5 L1285.4,485.6 L1285.6,488.7 L1285.9,491.8 L1286.1,494.9 L1286.4,497.9 L1286.6,501.0 L1286.8,504.1 L1287.0,507.2 L1287.1,510.3 L1287.3,513.4 L1287.4,516.5 L1287.6,519.6 L1287.7,522.6 L1287.8,525.5 L1288.0,528.4 L1288.1,531.3 L1288.3,534.1 L1288.4,536.8 L1288.6,539.3 L1288.7,541.0 L1288.8,542.5 L1288.9,543.9 L1289.1,545.3 L1289.2,546.8 L1289.3,548.5 L1289.5,551.2 L1289.7,554.2 L1289.9,557.3 L1290.2,560.6 L1290.4,563.8 L1290.6,567.0 L1290.8,570.1 L1291.0,573.2 L1291.3,576.3 L1291.5,579.4 L1291.7,582.5 L1291.9,585.6 L1292.1,588.7 L1292.3,591.8 L1292.4,594.9 L1292.6,597.9 L1292.8,601.0 L1293.0,604.1 L1293.2,607.2 L1293.5,610.3 L1293.7,613.4 L1294.0,616.5 L1294.2,619.6 L1294.4,622.6 L1294.6,625.4 L1294.7,628.2 L1294.9,630.9 L1295.0,633.7 L1295.1,636.5 L1295.3,639.3 L1295.5,642.3 L1295.6,645.3 L1295.8,648.3 L1296.0,651.3 L1296.2,654.5 L1296.4,657.8 L1296.7,662.1 L1297.1,666.7 L1297.5,671.4 L1297.9,676.1 L1298.3,680.9 L1298.7,685.6 L1299.1,690.2 L1299.5,694.9 L1299.8,699.5 L1300.2,704.1 L1300.6,708.7 L1301.0,713.3 L1301.4,717.7 L1301.7,722.0 L1302.0,726.4 L1302.4,730.7 L1302.8,735.0 L1303.3,739.3 L1303.9,743.7 L1304.6,748.3 L1305.4,752.9 L1306.2,757.3 L1307.0,761.5 L1307.7,765.3 L1308.1,767.7 L1308.5,769.8 L1308.9,771.9 L1309.3,773.9 L1309.7,775.9 L1310.2,777.9 L1310.8,780.1 L1311.4,782.3 L1312.0,784.5 L1312.8,786.6 L1313.6,788.6 L1314.6,790.5 L1315.6,792.1 L1316.6,793.8 L1317.8,795.4 L1319.0,796.7 L1320.3,797.7 L1321.6,798.1 L1323.2,797.9 L1324.9,797.0 L1326.7,795.6 L1328.5,793.9 L1330.2,792.2 L1331.7,790.5 L1333.2,788.7 L1334.6,786.7 L1335.8,784.5 L1337.0,782.3 L1338.2,780.1 L1339.2,777.9 L1340.1,775.8 L1340.9,773.7 L1341.7,771.6 L1342.4,769.5 L1343.0,767.4 L1343.7,765.3 L1344.4,763.2 L1345.0,761.1 L1345.6,758.9 L1346.2,756.8 L1346.8,754.7 L1347.4,752.6 L1348.0,750.6 L1348.7,748.6 L1349.3,746.6 L1350.0,744.6 L1350.6,742.6 L1351.2,740.5 L1351.8,738.1 L1352.5,735.8 L1353.1,733.4 L1353.7,730.9 L1354.3,728.2 L1355.0,725.2 L1356.2,720.0 L1357.6,714.0 L1359.1,707.7 L1360.6,701.1 L1362.0,694.5 L1363.3,688.1 L1364.5,681.9 L1365.6,675.8 L1366.7,669.6 L1367.7,663.4 L1368.7,657.3 L1369.8,651.1 L1370.9,644.9 L1372.0,638.8 L1373.1,632.6 L1374.2,626.4 L1375.3,620.3 L1376.3,614.1 L1377.3,607.9 L1378.3,601.5 L1379.2,595.2 L1380.2,588.9 L1381.1,582.8 L1381.9,577.0 L1382.6,572.1 L1383.2,567.3 L1383.8,562.5 L1384.4,558.0 L1384.9,553.8 L1385.5,550.0 L1385.9,547.8 L1386.2,545.9 L1386.6,544.1 L1386.9,542.3 L1387.2,540.4 L1387.6,538.3 L1388.1,534.8 L1388.6,530.8 L1389.1,526.7 L1389.7,522.4 L1390.2,518.1 L1390.7,513.9 L1391.2,509.8 L1391.7,505.8 L1392.2,501.7 L1392.8,497.6 L1393.3,493.6 L1393.9,489.5 L1394.5,485.4 L1395.2,481.4 L1395.8,477.3 L1396.5,473.2 L1397.3,469.2 L1398.0,465.1 L1398.8,461.0 L1399.6,457.0 L1400.5,452.9 L1401.3,448.8 L1402.1,444.8 L1402.9,440.7 L1403.6,436.6 L1404.2,432.6 L1404.7,428.5 L1405.3,424.4 L1405.9,420.4 L1406.6,416.3 L1407.4,412.2 L1408.2,408.2 L1409.1,404.2 L1409.9,400.1 L1410.7,396.1 L1411.5,392.0 L1412.2,387.9 L1412.8,383.9 L1413.4,379.8 L1413.9,375.7 L1414.5,371.7 L1415.1,367.6 L1415.7,363.5 L1416.3,359.5 L1416.9,355.4 L1417.5,351.3 L1418.1,347.3 L1418.8,343.2 L1419.5,339.1 L1420.3,335.1 L1421.2,331.0 L1422.0,326.9 L1422.9,322.9 L1423.7,318.8 L1424.5,314.6 L1425.2,310.2 L1425.8,305.8 L1426.6,301.6 L1427.5,297.7 L1428.5,294.4 L1429.3,292.3 L1430.2,290.2 L1431.1,288.3 L1432.1,286.7 L1433.0,285.6 L1433.9,285.2 L1434.8,285.6 L1435.7,286.7 L1436.5,288.3 L1437.4,290.3 L1438.1,292.3 L1438.8,294.4 L1439.6,297.7 L1440.1,301.6 L1440.4,305.8 L1440.6,310.2 L1440.9,314.6 L1441.2,318.8 L1441.6,322.9 L1442.0,326.9 L1442.5,331.0 L1442.9,335.1 L1443.3,339.1 L1443.7,343.2 L1444.1,347.3 L1444.4,351.3 L1444.7,355.4 L1445.0,359.5 L1445.3,363.5 L1445.6,367.6 L1445.9,371.7 L1446.2,375.7 L1446.5,379.8 L1446.8,383.9 L1447.0,387.9 L1447.3,392.0 L1447.5,396.1 L1447.7,400.1 L1447.9,404.1 L1448.1,408.2 L1448.3,412.2 L1448.5,416.3 L1448.7,420.4 L1449.0,424.4 L1449.3,428.5 L1449.5,432.6 L1449.8,436.6 L1450.0,440.7 L1450.2,444.8 L1450.4,448.8 L1450.6,452.9 L1450.8,457.0 L1451.0,461.0 L1451.2,465.1 L1451.4,469.2 L1451.6,473.2 L1451.8,477.3 L1452.0,481.4 L1452.2,485.4 L1452.4,489.5 L1452.6,493.5 L1452.7,497.5 L1452.8,501.5 L1453.0,505.5 L1453.1,509.7 L1453.2,513.9 L1453.3,518.8 L1453.4,523.7 L1453.5,528.7 L1453.7,533.9 L1453.8,539.3 L1454.0,545.0 L1454.3,553.2 L1454.7,561.9 L1455.2,571.1 L1455.7,580.5 L1456.2,589.8 L1456.6,598.8 L1457.0,607.1 L1457.4,615.2 L1457.8,623.4 L1458.2,631.4 L1458.6,639.5 L1459.0,647.6 L1459.4,655.7 L1459.8,663.8 L1460.2,672.0 L1460.7,680.1 L1461.1,688.2 L1461.5,696.3 L1461.9,704.4 L1462.3,712.6 L1462.7,720.7 L1463.0,728.8 L1463.5,737.0 L1463.9,745.1 L1464.4,753.4 L1464.9,761.8 L1465.5,770.2 L1466.0,778.4 L1466.6,786.4 L1467.1,793.9 L1467.5,799.6 L1467.9,805.0 L1468.2,810.2 L1468.6,815.3 L1469.0,820.2 L1469.5,825.0 L1469.9,828.8 L1470.3,832.5 L1470.8,836.1 L1471.3,839.6 L1471.8,843.2 L1472.3,846.9 L1472.9,851.2 L1473.6,855.7 L1474.3,860.2 L1475.0,864.8 L1475.7,869.4 L1476.4,873.9 L1477.0,878.4 L1477.7,883.0 L1478.3,887.6 L1478.9,892.1 L1479.6,896.6 L1480.4,900.8 L1481.2,904.4 L1481.9,907.9 L1482.8,911.3 L1483.7,914.6 L1484.7,917.8 L1485.8,921.0 L1486.9,923.9 L1488.1,926.7 L1489.3,929.5 L1490.7,932.2 L1492.2,934.8 L1493.9,937.2 L1495.8,939.5 L1497.9,941.8 L1500.2,943.9 L1502.5,945.9 L1504.9,947.7 L1507.3,949.3 L1509.4,950.5 L1511.5,951.6 L1513.6,952.5 L1515.9,953.2 L1518.2,954.0 L1520.8,954.7 L1524.7,955.6 L1529.0,956.4 L1533.6,957.0 L1538.4,957.6 L1543.1,958.2 L1547.7,958.7 L1552.3,959.2 L1556.9,959.7 L1561.6,960.1 L1566.2,960.6 L1570.6,961.0 L1574.7,961.4 L1578.0,961.8 L1581.6,962.2 L1585.1,962.7 L1588.1,963.0 L1590.2,963.3 L1591.0,963.4" fill="none" stroke="#FF8000" stroke-width="5" stroke-linejoin="round" stroke-linecap="butt"/>
<text x="12" y="120.8" font-size="88" fill="#000" text-anchor="start" >(a)</text>
<text x="842.4" y="120.8" font-size="88" fill="#000" text-anchor="start" >(b)</text>
<text x="184" y="117.7" font-size="61.5" fill="#000" text-anchor="start" >Pt amount</text>
<text x="1025.2" y="114" font-size="61.5" fill="#000" text-anchor="start" >Pt amount</text>
<text x="555.6" y="164.5" font-size="70" fill="#000" text-anchor="start" >Cd 3d</text>
<text x="1408.9" y="163.7" font-size="70" fill="#000" text-anchor="start" >Pt</text>
<text x="1486.1" y="163.7" font-size="70" fill="#000" text-anchor="start" >4f</text>
<text x="244.2" y="192.2" font-size="61.8" fill="#000" text-anchor="start" textLength="249.3" lengthAdjust="spacing">0.00 µmol</text>
<text x="244.2" y="257.1" font-size="61.8" fill="#7B2CA3" text-anchor="start" >0.22</text>
<text x="244.2" y="321.7" font-size="61.8" fill="#0000FF" text-anchor="start" >0.44</text>
<text x="244.2" y="388.2" font-size="61.8" fill="#006400" text-anchor="start" >0.66</text>
<text x="244.2" y="452.9" font-size="61.8" fill="#FF0000" text-anchor="start" >0.88</text>
<text x="244.2" y="519.6" font-size="61.8" fill="#F7941D" text-anchor="start" >1.00</text>
<text x="1067.8" y="188.9" font-size="61.8" fill="#F7941D" text-anchor="start" textLength="249.8" lengthAdjust="spacing">1.00 µmol</text>
<text x="1067.8" y="256.1" font-size="61.8" fill="#FF0000" text-anchor="start" >0.88</text>
<text x="1067.8" y="322.7" font-size="61.8" fill="#006400" text-anchor="start" >0.66</text>
<text x="1067.8" y="390.9" font-size="61.8" fill="#0000FF" text-anchor="start" >0.44</text>
<text x="1067.8" y="458.1" font-size="61.8" fill="#7B2CA3" text-anchor="start" >0.22</text>
<line x1="204" y1="165.8" x2="204" y2="472" stroke="#000" stroke-width="4"/>
<polygon points="190,471 217.5,471 204,498.5" fill="#000"/>
<line x1="1035" y1="455.8" x2="1035" y2="184" stroke="#000" stroke-width="4"/>
<polygon points="1020.5,185 1049.5,185 1035,157.5" fill="#000"/>
<text x="0" y="0" font-size="77.5" fill="#000" text-anchor="start" transform="translate(107,693.8) rotate(-90)">Intensity / -</text>
<text x="0" y="0" font-size="77.5" fill="#000" text-anchor="start" transform="translate(941.8,693.6) rotate(-90)">Intensity / -</text>
<text x="154.6" y="1156.7" font-size="77.5" fill="#000" text-anchor="start" >Binding energy / eV</text>
<text x="989.7" y="1156.7" font-size="77.5" fill="#000" text-anchor="start" >Binding energy / eV</text>
<text x="156.85" y="1077.9" font-size="78" fill="#000" text-anchor="middle" >416</text>
<text x="307.2" y="1077.9" font-size="78" fill="#000" text-anchor="middle" >412</text>
<text x="455.7" y="1077.9" font-size="78" fill="#000" text-anchor="middle" >408</text>
<text x="605.35" y="1077.9" font-size="78" fill="#000" text-anchor="middle" >404</text>
<text x="754.8" y="1077.9" font-size="78" fill="#000" text-anchor="middle" >400</text>
<text x="992.45" y="1077.5" font-size="78" fill="#000" text-anchor="middle" >80</text>
<text x="1189.4" y="1077.5" font-size="78" fill="#000" text-anchor="middle" >76</text>
<text x="1388.2" y="1077.5" font-size="78" fill="#000" text-anchor="middle" >72</text>
<text x="1587.1" y="1077.5" font-size="78" fill="#000" text-anchor="middle" >68</text>
</svg></body></html>
